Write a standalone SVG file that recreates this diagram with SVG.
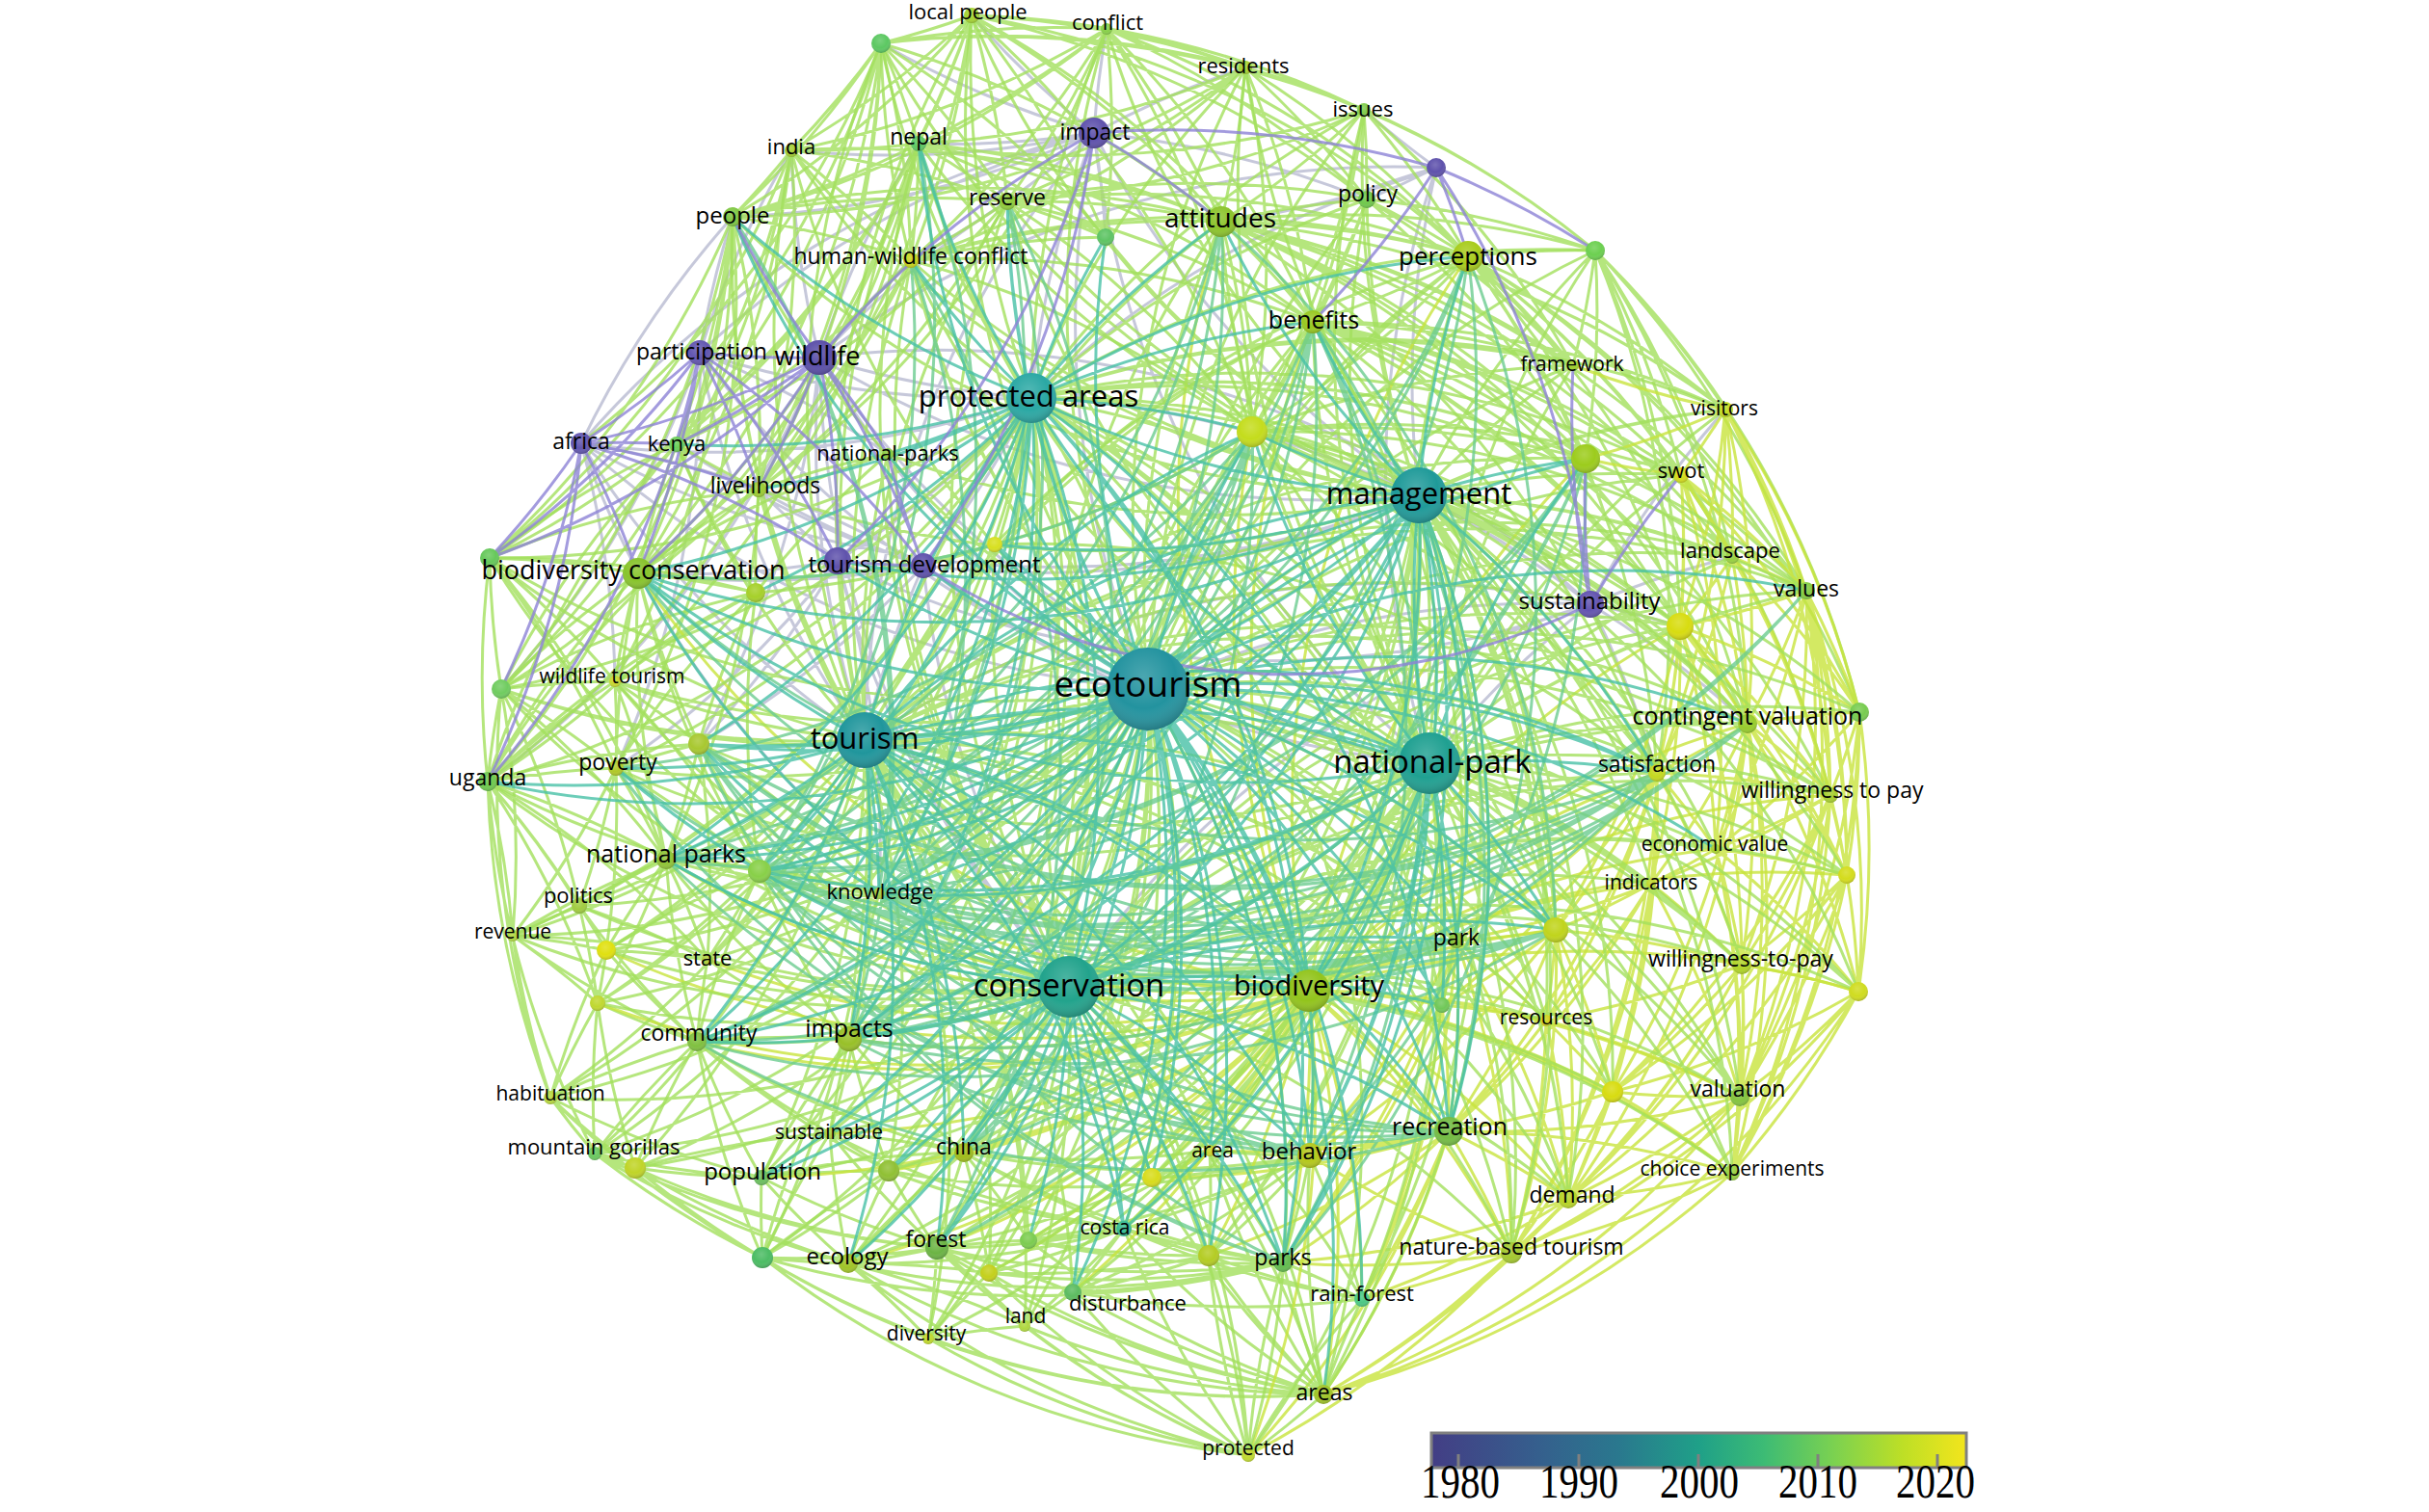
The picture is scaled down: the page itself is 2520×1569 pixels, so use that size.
<svg xmlns="http://www.w3.org/2000/svg" width="2520" height="1569" viewBox="0 0 2520 1569">
<style>
.k path{fill:none;stroke-width:3;stroke-opacity:.8;stroke-linecap:round}
.e1{stroke:#a3e05c}.e2{stroke:#c8e43c}.e3{stroke:#47c0a6}.e4{stroke:#6ccc90}.e5{stroke:#8c82d6}
.k path.e6{stroke:#a7aac6;stroke-opacity:.65}
.s{fill:url(#sh)}
text{font-family:"Open Sans","Liberation Sans",sans-serif;fill:#000;text-anchor:middle}
.yr{font-family:"Liberation Serif","Times New Roman",serif;font-size:41px}
</style>
<defs>
<radialGradient id="sh" cx="0.45" cy="0.35" r="0.7">
<stop offset="0" stop-color="#fff" stop-opacity="0.18"/>
<stop offset="0.55" stop-color="#fff" stop-opacity="0"/>
<stop offset="1" stop-color="#000" stop-opacity="0.28"/>
</radialGradient>
<linearGradient id="vir" x1="0" y1="0" x2="1" y2="0">
<stop offset="0" stop-color="#433e85"/>
<stop offset="0.2" stop-color="#355f8d"/>
<stop offset="0.35" stop-color="#2a788e"/>
<stop offset="0.5" stop-color="#1fa088"/>
<stop offset="0.62" stop-color="#3cbb75"/>
<stop offset="0.75" stop-color="#7ad151"/>
<stop offset="0.88" stop-color="#bddf26"/>
<stop offset="1" stop-color="#f3e51c"/>
</linearGradient>
</defs>
<rect width="2520" height="1569" fill="#fff"/>
<g id="connectors" class="k">
<path class="e6" d="M1191 715A1e3 1e3 0 0 1 850 371M1191 715A1e3 1e3 0 0 1 1135 138M1191 715A1e3 1e3 0 0 1 1650 627M1191 715A1e3 1e3 0 0 1 603 460M1191 715A1e3 1e3 0 0 1 726 366
M897 768A1e3 1e3 0 0 1 850 371M897 768A1e3 1e3 0 0 1 1135 138M897 768A1e3 1e3 0 0 1 603 460M897 768A1e3 1e3 0 0 1 726 366M897 768A1e3 1e3 0 0 1 1650 627M897 768A1e3 1e3 0 0 1 958 587
M1483 792A1e3 1e3 0 0 1 1650 627M1483 792A1e3 1e3 0 0 1 1135 138M1483 792A1e3 1e3 0 0 1 850 371M1483 792A1e3 1e3 0 0 1 1490 174M1483 792A1e3 1e3 0 0 1 958 587
M1472 514A1e3 1e3 0 0 1 1650 627M1472 514A1e3 1e3 0 0 1 1490 174M1472 514A1e3 1e3 0 0 1 1135 138M1472 514A1e3 1e3 0 0 1 850 371M1472 514A1e3 1e3 0 0 1 958 587M1472 514A1e3 1e3 0 0 1 603 460
M1070 413A1e3 1e3 0 0 1 850 371M1070 413A1e3 1e3 0 0 1 1135 138M1070 413A1e3 1e3 0 0 1 726 366M1070 413A1e3 1e3 0 0 1 603 460M1070 413A1e3 1e3 0 0 1 1490 174M1070 413A1e3 1e3 0 0 1 1650 627M1070 413A1e3 1e3 0 0 1 958 587M1070 413A1e3 1e3 0 0 1 869 582
M1109 1024A1e3 1e3 0 0 1 958 587M1109 1024A1e3 1e3 0 0 1 869 582M1109 1024A1e3 1e3 0 0 1 850 371M1109 1024A1e3 1e3 0 0 1 603 460M1109 1024A1e3 1e3 0 0 1 1650 627
M1135 138A1e3 1e3 0 0 1 945 270M1135 138A1e3 1e3 0 0 1 1045 209M1135 138A1e3 1e3 0 0 1 953 149M1135 138A1e3 1e3 0 0 1 760 225M1135 138A1e3 1e3 0 0 1 821 156M1135 138A1e3 1e3 0 0 1 1147 246M1135 138A1e3 1e3 0 0 1 1418 207M1135 138A1e3 1e3 0 0 1 1148 30M1135 138A1e3 1e3 0 0 1 914 45M1135 138A1e3 1e3 0 0 1 1008 16M1135 138A1e3 1e3 0 0 1 1292 70
M869 582A1e3 1e3 0 0 1 725 772M869 582A1e3 1e3 0 0 1 639 797M869 582A1e3 1e3 0 0 1 912 927M869 582A1e3 1e3 0 0 1 662 595M869 582A1e3 1e3 0 0 1 787 508
M958 587A1e3 1e3 0 0 1 662 595M958 587A1e3 1e3 0 0 1 725 772M958 587A1e3 1e3 0 0 1 787 508M958 587A1e3 1e3 0 0 1 702 461
M1650 627A1e3 1e3 0 0 1 869 582M1650 627A1e3 1e3 0 0 1 1743 650M1650 627A1e3 1e3 0 0 1 1813 751M1650 627A1e3 1e3 0 0 1 1719 802M1650 627A1e3 1e3 0 0 1 1790 425M1650 627A1e3 1e3 0 0 1 1797 578
M726 366A1e3 1e3 0 0 1 1135 138M726 366A1e3 1e3 0 0 1 760 225M726 366A1e3 1e3 0 0 1 821 156M726 366A1e3 1e3 0 0 1 520 715M726 366A1e3 1e3 0 0 1 639 797M726 366A1e3 1e3 0 0 1 921 471
M603 460A1e3 1e3 0 0 1 958 587M603 460A1e3 1e3 0 0 1 760 225M603 460A1e3 1e3 0 0 1 1135 138M603 460A1e3 1e3 0 0 1 638 707
M850 371A1e3 1e3 0 0 1 821 156M850 371A1e3 1e3 0 0 1 953 149M850 371A1e3 1e3 0 0 1 725 772M850 371A1e3 1e3 0 0 1 506 811M850 371A1e3 1e3 0 0 1 1650 627M850 371A1e3 1e3 0 0 1 1490 174M850 371A1e3 1e3 0 0 1 945 270M850 371A1e3 1e3 0 0 1 1045 209
M1490 174A1e3 1e3 0 0 1 1418 207M1490 174A1e3 1e3 0 0 1 1267 230M1490 174A1e3 1e3 0 0 1 1415 114"/>
<path class="e1" d="M1008 16A1e3 1e3 0 0 1 914 45M1008 16A1e3 1e3 0 0 1 1148 30M1008 16A1e3 1e3 0 0 1 1292 70M1008 16A1e3 1e3 0 0 1 1415 114M1008 16A1e3 1e3 0 0 1 953 149M1008 16A1e3 1e3 0 0 1 821 156M1008 16A1e3 1e3 0 0 1 760 225M1008 16A1e3 1e3 0 0 1 1045 209M1008 16A1e3 1e3 0 0 1 945 270M1008 16A1e3 1e3 0 0 1 1267 230M1008 16A1e3 1e3 0 0 1 1147 246M1008 16A1e3 1e3 0 0 1 1418 207M1008 16A1e3 1e3 0 0 1 1523 266M1008 16A1e3 1e3 0 0 1 1362 334M1008 16A1e3 1e3 0 0 1 1299 448M1008 16A1e3 1e3 0 0 1 702 461M1008 16A1e3 1e3 0 0 1 787 508
M914 45A1e3 1e3 0 0 1 1148 30M914 45A1e3 1e3 0 0 1 953 149M914 45A1e3 1e3 0 0 1 821 156M914 45A1e3 1e3 0 0 1 760 225M914 45A1e3 1e3 0 0 1 1045 209M914 45A1e3 1e3 0 0 1 945 270M914 45A1e3 1e3 0 0 1 1267 230M914 45A1e3 1e3 0 0 1 1147 246M914 45A1e3 1e3 0 0 1 1415 114M914 45A1e3 1e3 0 0 1 1292 70M914 45A1e3 1e3 0 0 1 702 461M914 45A1e3 1e3 0 0 1 603 460M914 45A1e3 1e3 0 0 1 787 508M914 45A1e3 1e3 0 0 1 662 595M914 45A1e3 1e3 0 0 1 508 579M914 45A1e3 1e3 0 0 1 506 811
M1148 30A1e3 1e3 0 0 1 1292 70M1148 30A1e3 1e3 0 0 1 1415 114M1148 30A1e3 1e3 0 0 1 953 149M1148 30A1e3 1e3 0 0 1 821 156M1148 30A1e3 1e3 0 0 1 760 225M1148 30A1e3 1e3 0 0 1 1045 209M1148 30A1e3 1e3 0 0 1 945 270M1148 30A1e3 1e3 0 0 1 1267 230M1148 30A1e3 1e3 0 0 1 1147 246M1148 30A1e3 1e3 0 0 1 1418 207M1148 30A1e3 1e3 0 0 1 1523 266M1148 30A1e3 1e3 0 0 1 1362 334M1148 30A1e3 1e3 0 0 1 1299 448M1148 30A1e3 1e3 0 0 1 787 508
M1292 70A1e3 1e3 0 0 1 1415 114M1292 70A1e3 1e3 0 0 1 953 149M1292 70A1e3 1e3 0 0 1 760 225M1292 70A1e3 1e3 0 0 1 1045 209M1292 70A1e3 1e3 0 0 1 1267 230M1292 70A1e3 1e3 0 0 1 1418 207M1292 70A1e3 1e3 0 0 1 1523 266M1292 70A1e3 1e3 0 0 1 1655 260M1292 70A1e3 1e3 0 0 1 1362 334M1292 70A1e3 1e3 0 0 1 1299 448M1292 70A1e3 1e3 0 0 1 945 270
M1415 114A1e3 1e3 0 0 1 1418 207M1415 114A1e3 1e3 0 0 1 1267 230M1415 114A1e3 1e3 0 0 1 1523 266M1415 114A1e3 1e3 0 0 1 1655 260M1415 114A1e3 1e3 0 0 1 1362 334M1415 114A1e3 1e3 0 0 1 1045 209M1415 114A1e3 1e3 0 0 1 953 149M1415 114A1e3 1e3 0 0 1 1299 448M1415 114A1e3 1e3 0 0 1 1632 379
M953 149A1e3 1e3 0 0 1 821 156M953 149A1e3 1e3 0 0 1 760 225M953 149A1e3 1e3 0 0 1 1045 209M953 149A1e3 1e3 0 0 1 945 270M953 149A1e3 1e3 0 0 1 1267 230M953 149A1e3 1e3 0 0 1 1147 246M953 149A1e3 1e3 0 0 1 1362 334M953 149A1e3 1e3 0 0 1 702 461M953 149A1e3 1e3 0 0 1 787 508M953 149A1e3 1e3 0 0 1 662 595M953 149A1e3 1e3 0 0 1 508 579M953 149A1e3 1e3 0 0 1 520 715M953 149A1e3 1e3 0 0 1 506 811
M821 156A1e3 1e3 0 0 1 760 225M821 156A1e3 1e3 0 0 1 1045 209M821 156A1e3 1e3 0 0 1 945 270M821 156A1e3 1e3 0 0 1 1267 230M821 156A1e3 1e3 0 0 1 702 461M821 156A1e3 1e3 0 0 1 787 508M821 156A1e3 1e3 0 0 1 662 595M821 156A1e3 1e3 0 0 1 508 579M821 156A1e3 1e3 0 0 1 520 715
M760 225A1e3 1e3 0 0 1 1045 209M760 225A1e3 1e3 0 0 1 945 270M760 225A1e3 1e3 0 0 1 1267 230M760 225A1e3 1e3 0 0 1 702 461M760 225A1e3 1e3 0 0 1 787 508M760 225A1e3 1e3 0 0 1 662 595M760 225A1e3 1e3 0 0 1 508 579M760 225A1e3 1e3 0 0 1 520 715M760 225A1e3 1e3 0 0 1 506 811M760 225A1e3 1e3 0 0 1 639 797M760 225A1e3 1e3 0 0 1 638 707M760 225A1e3 1e3 0 0 1 691 892
M1045 209A1e3 1e3 0 0 1 945 270M1045 209A1e3 1e3 0 0 1 1267 230M1045 209A1e3 1e3 0 0 1 1147 246M1045 209A1e3 1e3 0 0 1 1362 334M1045 209A1e3 1e3 0 0 1 1418 207M1045 209A1e3 1e3 0 0 1 1523 266M1045 209A1e3 1e3 0 0 1 1299 448M1045 209A1e3 1e3 0 0 1 787 508M1045 209A1e3 1e3 0 0 1 702 461
M945 270A1e3 1e3 0 0 1 1267 230M945 270A1e3 1e3 0 0 1 1147 246M945 270A1e3 1e3 0 0 1 1362 334M945 270A1e3 1e3 0 0 1 1523 266M945 270A1e3 1e3 0 0 1 702 461M945 270A1e3 1e3 0 0 1 787 508M945 270A1e3 1e3 0 0 1 662 595M945 270A1e3 1e3 0 0 1 1299 448
M1267 230A1e3 1e3 0 0 1 1418 207M1267 230A1e3 1e3 0 0 1 1523 266M1267 230A1e3 1e3 0 0 1 1655 260M1267 230A1e3 1e3 0 0 1 1362 334M1267 230A1e3 1e3 0 0 1 1299 448M1267 230A1e3 1e3 0 0 1 1645 476M1267 230A1e3 1e3 0 0 1 1632 379M1267 230A1e3 1e3 0 0 1 1744 493M1267 230A1e3 1e3 0 0 1 1790 425M1267 230A1e3 1e3 0 0 1 1797 578M1267 230A1e3 1e3 0 0 1 1874 613M1267 230A1e3 1e3 0 0 1 1743 650M1267 230A1e3 1e3 0 0 1 1719 802M1267 230A1e3 1e3 0 0 1 1813 751
M1418 207A1e3 1e3 0 0 1 1523 266M1418 207A1e3 1e3 0 0 1 1655 260M1418 207A1e3 1e3 0 0 1 1362 334M1418 207A1e3 1e3 0 0 1 1299 448M1418 207A1e3 1e3 0 0 1 1632 379M1418 207A1e3 1e3 0 0 1 1645 476
M1523 266A1e3 1e3 0 0 1 1655 260M1523 266A1e3 1e3 0 0 1 1362 334M1523 266A1e3 1e3 0 0 1 1299 448M1523 266A1e3 1e3 0 0 1 1632 379M1523 266A1e3 1e3 0 0 1 1790 425M1523 266A1e3 1e3 0 0 1 1645 476M1523 266A1e3 1e3 0 0 1 1744 493M1523 266A1e3 1e3 0 0 1 1797 578M1523 266A1e3 1e3 0 0 1 1874 613M1523 266A1e3 1e3 0 0 1 1743 650M1523 266A1e3 1e3 0 0 1 1813 751M1523 266A1e3 1e3 0 0 1 1719 802M1523 266A1e3 1e3 0 0 1 1899 825M1523 266A1e3 1e3 0 0 1 1929 739
M1655 260A1e3 1e3 0 0 1 1632 379M1655 260A1e3 1e3 0 0 1 1790 425M1655 260A1e3 1e3 0 0 1 1645 476M1655 260A1e3 1e3 0 0 1 1744 493M1655 260A1e3 1e3 0 0 1 1797 578M1655 260A1e3 1e3 0 0 1 1874 613M1655 260A1e3 1e3 0 0 1 1743 650M1655 260A1e3 1e3 0 0 1 1813 751M1655 260A1e3 1e3 0 0 1 1929 739M1655 260A1e3 1e3 0 0 1 1719 802
M1362 334A1e3 1e3 0 0 1 1299 448M1362 334A1e3 1e3 0 0 1 1632 379M1362 334A1e3 1e3 0 0 1 1790 425M1362 334A1e3 1e3 0 0 1 1645 476M1362 334A1e3 1e3 0 0 1 1744 493M1362 334A1e3 1e3 0 0 1 1797 578M1362 334A1e3 1e3 0 0 1 1874 613M1362 334A1e3 1e3 0 0 1 1743 650M1362 334A1e3 1e3 0 0 1 1813 751M1362 334A1e3 1e3 0 0 1 1719 802M1362 334A1e3 1e3 0 0 1 1899 825M1362 334A1e3 1e3 0 0 1 1511 976M1362 334A1e3 1e3 0 0 1 1614 965
M1299 448A1e3 1e3 0 0 1 1645 476M1299 448A1e3 1e3 0 0 1 1632 379M1299 448A1e3 1e3 0 0 1 1744 493M1299 448A1e3 1e3 0 0 1 1874 613M1299 448A1e3 1e3 0 0 1 1743 650M1299 448A1e3 1e3 0 0 1 1813 751M1299 448A1e3 1e3 0 0 1 1719 802M1299 448A1e3 1e3 0 0 1 1614 965M1299 448A1e3 1e3 0 0 1 1511 976M1299 448A1e3 1e3 0 0 1 1032 565"/>
<path class="e2" d="M1790 425A1e3 1e3 0 0 1 1744 493M1790 425A1e3 1e3 0 0 1 1797 578M1790 425A1e3 1e3 0 0 1 1874 613M1790 425A1e3 1e3 0 0 1 1743 650M1790 425A1e3 1e3 0 0 1 1813 751M1790 425A1e3 1e3 0 0 1 1929 739M1790 425A1e3 1e3 0 0 1 1719 802M1790 425A1e3 1e3 0 0 1 1899 825M1790 425A1e3 1e3 0 0 1 1916 908M1790 425A1e3 1e3 0 0 1 1632 379M1790 425A1e3 1e3 0 0 1 1645 476
M1744 493A1e3 1e3 0 0 1 1797 578M1744 493A1e3 1e3 0 0 1 1874 613M1744 493A1e3 1e3 0 0 1 1743 650M1744 493A1e3 1e3 0 0 1 1813 751M1744 493A1e3 1e3 0 0 1 1929 739M1744 493A1e3 1e3 0 0 1 1719 802M1744 493A1e3 1e3 0 0 1 1899 825M1744 493A1e3 1e3 0 0 1 1780 881M1744 493A1e3 1e3 0 0 1 1916 908M1744 493A1e3 1e3 0 0 1 1645 476
M1797 578A1e3 1e3 0 0 1 1874 613M1797 578A1e3 1e3 0 0 1 1743 650M1797 578A1e3 1e3 0 0 1 1813 751M1797 578A1e3 1e3 0 0 1 1929 739M1797 578A1e3 1e3 0 0 1 1899 825M1797 578A1e3 1e3 0 0 1 1719 802M1797 578A1e3 1e3 0 0 1 1916 908
M1874 613A1e3 1e3 0 0 1 1743 650M1874 613A1e3 1e3 0 0 1 1813 751M1874 613A1e3 1e3 0 0 1 1929 739M1874 613A1e3 1e3 0 0 1 1899 825M1874 613A1e3 1e3 0 0 1 1780 881M1874 613A1e3 1e3 0 0 1 1916 908M1874 613A1e3 1e3 0 0 1 1807 1001M1874 613A1e3 1e3 0 0 1 1928 1029M1874 613A1e3 1e3 0 0 1 1805 1138M1874 613A1e3 1e3 0 0 1 1797 1217
M1743 650A1e3 1e3 0 0 1 1813 751M1743 650A1e3 1e3 0 0 1 1929 739M1743 650A1e3 1e3 0 0 1 1719 802M1743 650A1e3 1e3 0 0 1 1899 825M1743 650A1e3 1e3 0 0 1 1780 881M1743 650A1e3 1e3 0 0 1 1713 917M1743 650A1e3 1e3 0 0 1 1916 908M1743 650A1e3 1e3 0 0 1 1614 965M1743 650A1e3 1e3 0 0 1 1807 1001M1743 650A1e3 1e3 0 0 1 1928 1029
M1813 751A1e3 1e3 0 0 1 1929 739M1813 751A1e3 1e3 0 0 1 1719 802M1813 751A1e3 1e3 0 0 1 1899 825M1813 751A1e3 1e3 0 0 1 1780 881M1813 751A1e3 1e3 0 0 1 1916 908M1813 751A1e3 1e3 0 0 1 1713 917M1813 751A1e3 1e3 0 0 1 1807 1001M1813 751A1e3 1e3 0 0 1 1928 1029M1813 751A1e3 1e3 0 0 1 1805 1138M1813 751A1e3 1e3 0 0 1 1797 1217M1813 751A1e3 1e3 0 0 1 1673 1133M1813 751A1e3 1e3 0 0 1 1627 1244
M1929 739A1e3 1e3 0 0 1 1899 825M1929 739A1e3 1e3 0 0 1 1780 881M1929 739A1e3 1e3 0 0 1 1916 908M1929 739A1e3 1e3 0 0 1 1807 1001M1929 739A1e3 1e3 0 0 1 1928 1029M1929 739A1e3 1e3 0 0 1 1805 1138M1929 739A1e3 1e3 0 0 1 1797 1217
M1719 802A1e3 1e3 0 0 1 1899 825M1719 802A1e3 1e3 0 0 1 1780 881M1719 802A1e3 1e3 0 0 1 1713 917M1719 802A1e3 1e3 0 0 1 1614 965M1719 802A1e3 1e3 0 0 1 1511 976M1719 802A1e3 1e3 0 0 1 1807 1001M1719 802A1e3 1e3 0 0 1 1496 1043M1719 802A1e3 1e3 0 0 1 1604 1059M1719 802A1e3 1e3 0 0 1 1503 1174M1719 802A1e3 1e3 0 0 1 1673 1133M1719 802A1e3 1e3 0 0 1 1627 1244M1719 802A1e3 1e3 0 0 1 1568 1300
M1899 825A1e3 1e3 0 0 1 1780 881M1899 825A1e3 1e3 0 0 1 1916 908M1899 825A1e3 1e3 0 0 1 1713 917M1899 825A1e3 1e3 0 0 1 1807 1001M1899 825A1e3 1e3 0 0 1 1928 1029M1899 825A1e3 1e3 0 0 1 1805 1138M1899 825A1e3 1e3 0 0 1 1797 1217M1899 825A1e3 1e3 0 0 1 1673 1133M1899 825A1e3 1e3 0 0 1 1627 1244
M1780 881A1e3 1e3 0 0 1 1916 908M1780 881A1e3 1e3 0 0 1 1713 917M1780 881A1e3 1e3 0 0 1 1807 1001M1780 881A1e3 1e3 0 0 1 1928 1029M1780 881A1e3 1e3 0 0 1 1805 1138M1780 881A1e3 1e3 0 0 1 1797 1217
M1916 908A1e3 1e3 0 0 1 1807 1001M1916 908A1e3 1e3 0 0 1 1928 1029M1916 908A1e3 1e3 0 0 1 1805 1138M1916 908A1e3 1e3 0 0 1 1797 1217M1916 908A1e3 1e3 0 0 1 1673 1133M1916 908A1e3 1e3 0 0 1 1627 1244
M1713 917A1e3 1e3 0 0 1 1614 965M1713 917A1e3 1e3 0 0 1 1511 976M1713 917A1e3 1e3 0 0 1 1807 1001M1713 917A1e3 1e3 0 0 1 1604 1059M1713 917A1e3 1e3 0 0 1 1673 1133M1713 917A1e3 1e3 0 0 1 1805 1138M1713 917A1e3 1e3 0 0 1 1627 1244M1713 917A1e3 1e3 0 0 1 1568 1300M1713 917A1e3 1e3 0 0 1 1503 1174
M1614 965A1e3 1e3 0 0 1 1511 976M1614 965A1e3 1e3 0 0 1 1496 1043M1614 965A1e3 1e3 0 0 1 1604 1059M1614 965A1e3 1e3 0 0 1 1807 1001M1614 965A1e3 1e3 0 0 1 1503 1174M1614 965A1e3 1e3 0 0 1 1673 1133M1614 965A1e3 1e3 0 0 1 1627 1244M1614 965A1e3 1e3 0 0 1 1568 1300M1614 965A1e3 1e3 0 0 1 1359 1199
M1511 976A1e3 1e3 0 0 1 1496 1043M1511 976A1e3 1e3 0 0 1 1604 1059M1511 976A1e3 1e3 0 0 1 1503 1174M1511 976A1e3 1e3 0 0 1 1359 1199M1511 976A1e3 1e3 0 0 1 1331 1310M1511 976A1e3 1e3 0 0 1 1413 1348M1511 976A1e3 1e3 0 0 1 1568 1300M1511 976A1e3 1e3 0 0 1 1627 1244
M1807 1001A1e3 1e3 0 0 1 1928 1029M1807 1001A1e3 1e3 0 0 1 1805 1138M1807 1001A1e3 1e3 0 0 1 1797 1217M1807 1001A1e3 1e3 0 0 1 1673 1133M1807 1001A1e3 1e3 0 0 1 1627 1244M1807 1001A1e3 1e3 0 0 1 1568 1300M1807 1001A1e3 1e3 0 0 1 1604 1059
M1928 1029A1e3 1e3 0 0 1 1805 1138M1928 1029A1e3 1e3 0 0 1 1797 1217M1928 1029A1e3 1e3 0 0 1 1673 1133M1928 1029A1e3 1e3 0 0 1 1627 1244M1928 1029A1e3 1e3 0 0 1 1568 1300M1928 1029A1e3 1e3 0 0 1 1373 1447
M1496 1043A1e3 1e3 0 0 1 1604 1059M1496 1043A1e3 1e3 0 0 1 1503 1174M1496 1043A1e3 1e3 0 0 1 1359 1199M1496 1043A1e3 1e3 0 0 1 1331 1310M1496 1043A1e3 1e3 0 0 1 1413 1348
M1604 1059A1e3 1e3 0 0 1 1503 1174M1604 1059A1e3 1e3 0 0 1 1673 1133M1604 1059A1e3 1e3 0 0 1 1805 1138M1604 1059A1e3 1e3 0 0 1 1627 1244M1604 1059A1e3 1e3 0 0 1 1568 1300
M1805 1138A1e3 1e3 0 0 1 1797 1217M1805 1138A1e3 1e3 0 0 1 1673 1133M1805 1138A1e3 1e3 0 0 1 1627 1244M1805 1138A1e3 1e3 0 0 1 1568 1300M1805 1138A1e3 1e3 0 0 1 1503 1174M1805 1138A1e3 1e3 0 0 1 1373 1447
M1673 1133A1e3 1e3 0 0 1 1797 1217M1673 1133A1e3 1e3 0 0 1 1627 1244M1673 1133A1e3 1e3 0 0 1 1568 1300M1673 1133A1e3 1e3 0 0 1 1503 1174
M1503 1174A1e3 1e3 0 0 1 1359 1199M1503 1174A1e3 1e3 0 0 1 1331 1310M1503 1174A1e3 1e3 0 0 1 1413 1348M1503 1174A1e3 1e3 0 0 1 1568 1300M1503 1174A1e3 1e3 0 0 1 1627 1244M1503 1174A1e3 1e3 0 0 1 1797 1217M1503 1174A1e3 1e3 0 0 1 1373 1447M1503 1174A1e3 1e3 0 0 1 1295 1510M1503 1174A1e3 1e3 0 0 1 1255 1194M1503 1174A1e3 1e3 0 0 1 1195 1222M1503 1174A1e3 1e3 0 0 1 1254 1303
M1797 1217A1e3 1e3 0 0 1 1627 1244M1797 1217A1e3 1e3 0 0 1 1568 1300M1797 1217A1e3 1e3 0 0 1 1373 1447
M1627 1244A1e3 1e3 0 0 1 1568 1300M1627 1244A1e3 1e3 0 0 1 1373 1447M1627 1244A1e3 1e3 0 0 1 1413 1348M1627 1244A1e3 1e3 0 0 1 1331 1310
M1568 1300A1e3 1e3 0 0 1 1373 1447M1568 1300A1e3 1e3 0 0 1 1295 1510M1568 1300A1e3 1e3 0 0 1 1413 1348M1568 1300A1e3 1e3 0 0 1 1331 1310M1568 1300A1e3 1e3 0 0 1 1359 1199"/>
<path class="e1" d="M1373 1447A1e3 1e3 0 0 1 1295 1510M1373 1447A1e3 1e3 0 0 1 1331 1310M1373 1447A1e3 1e3 0 0 1 1413 1348M1373 1447A1e3 1e3 0 0 1 1254 1303M1373 1447A1e3 1e3 0 0 1 1359 1199M1373 1447A1e3 1e3 0 0 1 1255 1194M1373 1447A1e3 1e3 0 0 1 1195 1222M1373 1447A1e3 1e3 0 0 1 1166 1275M1373 1447A1e3 1e3 0 0 1 1113 1341M1373 1447A1e3 1e3 0 0 1 1063 1376M1373 1447A1e3 1e3 0 0 1 1067 1287M1373 1447A1e3 1e3 0 0 1 1026 1321M1373 1447A1e3 1e3 0 0 1 972 1295M1373 1447A1e3 1e3 0 0 1 880 1311M1373 1447A1e3 1e3 0 0 1 963 1389M1373 1447A1e3 1e3 0 0 1 791 1305
M1295 1510A1e3 1e3 0 0 1 1331 1310M1295 1510A1e3 1e3 0 0 1 1413 1348M1295 1510A1e3 1e3 0 0 1 1254 1303M1295 1510A1e3 1e3 0 0 1 1113 1341M1295 1510A1e3 1e3 0 0 1 1063 1376M1295 1510A1e3 1e3 0 0 1 963 1389M1295 1510A1e3 1e3 0 0 1 1026 1321M1295 1510A1e3 1e3 0 0 1 972 1295M1295 1510A1e3 1e3 0 0 1 880 1311M1295 1510A1e3 1e3 0 0 1 791 1305M1295 1510A1e3 1e3 0 0 1 1166 1275
M1359 1199A1e3 1e3 0 0 1 1255 1194M1359 1199A1e3 1e3 0 0 1 1195 1222M1359 1199A1e3 1e3 0 0 1 1331 1310M1359 1199A1e3 1e3 0 0 1 1413 1348M1359 1199A1e3 1e3 0 0 1 1166 1275M1359 1199A1e3 1e3 0 0 1 1254 1303M1359 1199A1e3 1e3 0 0 1 1067 1287M1359 1199A1e3 1e3 0 0 1 1113 1341M1359 1199A1e3 1e3 0 0 1 1000 1196M1359 1199A1e3 1e3 0 0 1 922 1215
M1255 1194A1e3 1e3 0 0 1 1195 1222M1255 1194A1e3 1e3 0 0 1 1331 1310M1255 1194A1e3 1e3 0 0 1 1166 1275M1255 1194A1e3 1e3 0 0 1 1254 1303M1255 1194A1e3 1e3 0 0 1 1067 1287M1255 1194A1e3 1e3 0 0 1 972 1295M1255 1194A1e3 1e3 0 0 1 1000 1196
M1331 1310A1e3 1e3 0 0 1 1413 1348M1331 1310A1e3 1e3 0 0 1 1254 1303M1331 1310A1e3 1e3 0 0 1 1166 1275M1331 1310A1e3 1e3 0 0 1 1067 1287M1331 1310A1e3 1e3 0 0 1 1113 1341M1331 1310A1e3 1e3 0 0 1 1026 1321M1331 1310A1e3 1e3 0 0 1 972 1295M1331 1310A1e3 1e3 0 0 1 880 1311M1331 1310A1e3 1e3 0 0 1 791 1305M1331 1310A1e3 1e3 0 0 1 1000 1196
M1413 1348A1e3 1e3 0 0 1 1254 1303M1413 1348A1e3 1e3 0 0 1 1166 1275M1413 1348A1e3 1e3 0 0 1 1113 1341
M1166 1275A1e3 1e3 0 0 1 1067 1287M1166 1275A1e3 1e3 0 0 1 1113 1341M1166 1275A1e3 1e3 0 0 1 1026 1321M1166 1275A1e3 1e3 0 0 1 972 1295M1166 1275A1e3 1e3 0 0 1 880 1311M1166 1275A1e3 1e3 0 0 1 1000 1196M1166 1275A1e3 1e3 0 0 1 922 1215M1166 1275A1e3 1e3 0 0 1 861 1176M1166 1275A1e3 1e3 0 0 1 1063 1376
M1254 1303A1e3 1e3 0 0 1 1067 1287M1254 1303A1e3 1e3 0 0 1 1113 1341M1254 1303A1e3 1e3 0 0 1 1026 1321M1254 1303A1e3 1e3 0 0 1 1000 1196
M972 1295A1e3 1e3 0 0 1 880 1311M972 1295A1e3 1e3 0 0 1 791 1305M972 1295A1e3 1e3 0 0 1 1067 1287M972 1295A1e3 1e3 0 0 1 1113 1341M972 1295A1e3 1e3 0 0 1 1063 1376M972 1295A1e3 1e3 0 0 1 963 1389M972 1295A1e3 1e3 0 0 1 1026 1321M972 1295A1e3 1e3 0 0 1 1000 1196M972 1295A1e3 1e3 0 0 1 790 1222M972 1295A1e3 1e3 0 0 1 922 1215M972 1295A1e3 1e3 0 0 1 861 1176M972 1295A1e3 1e3 0 0 1 617 1197M972 1295A1e3 1e3 0 0 1 659 1212
M880 1311A1e3 1e3 0 0 1 791 1305M880 1311A1e3 1e3 0 0 1 963 1389M880 1311A1e3 1e3 0 0 1 1063 1376M880 1311A1e3 1e3 0 0 1 1026 1321M880 1311A1e3 1e3 0 0 1 790 1222M880 1311A1e3 1e3 0 0 1 617 1197M880 1311A1e3 1e3 0 0 1 659 1212M880 1311A1e3 1e3 0 0 1 861 1176M880 1311A1e3 1e3 0 0 1 922 1215M880 1311A1e3 1e3 0 0 1 1000 1196
M963 1389A1e3 1e3 0 0 1 791 1305M963 1389A1e3 1e3 0 0 1 1063 1376M963 1389A1e3 1e3 0 0 1 1026 1321
M791 1305A1e3 1e3 0 0 1 790 1222M791 1305A1e3 1e3 0 0 1 617 1197M791 1305A1e3 1e3 0 0 1 659 1212M791 1305A1e3 1e3 0 0 1 571 1139M791 1305A1e3 1e3 0 0 1 861 1176M791 1305A1e3 1e3 0 0 1 922 1215M791 1305A1e3 1e3 0 0 1 723 1081M791 1305A1e3 1e3 0 0 1 881 1078
M790 1222A1e3 1e3 0 0 1 617 1197M790 1222A1e3 1e3 0 0 1 659 1212M790 1222A1e3 1e3 0 0 1 861 1176M790 1222A1e3 1e3 0 0 1 922 1215M790 1222A1e3 1e3 0 0 1 1000 1196M790 1222A1e3 1e3 0 0 1 571 1139M790 1222A1e3 1e3 0 0 1 723 1081M790 1222A1e3 1e3 0 0 1 881 1078
M617 1197A1e3 1e3 0 0 1 659 1212M617 1197A1e3 1e3 0 0 1 571 1139M617 1197A1e3 1e3 0 0 1 723 1081M617 1197A1e3 1e3 0 0 1 506 811M617 1197A1e3 1e3 0 0 1 620 1041
M659 1212A1e3 1e3 0 0 1 571 1139M659 1212A1e3 1e3 0 0 1 723 1081M659 1212A1e3 1e3 0 0 1 861 1176M659 1212A1e3 1e3 0 0 1 620 1041
M861 1176A1e3 1e3 0 0 1 922 1215M861 1176A1e3 1e3 0 0 1 1000 1196M861 1176A1e3 1e3 0 0 1 723 1081M861 1176A1e3 1e3 0 0 1 881 1078
M922 1215A1e3 1e3 0 0 1 1000 1196M922 1215A1e3 1e3 0 0 1 723 1081M922 1215A1e3 1e3 0 0 1 881 1078
M1000 1196A1e3 1e3 0 0 1 723 1081M1000 1196A1e3 1e3 0 0 1 881 1078M1000 1196A1e3 1e3 0 0 1 1067 1287M1000 1196A1e3 1e3 0 0 1 1026 1321
M571 1139A1e3 1e3 0 0 1 723 1081M571 1139A1e3 1e3 0 0 1 506 811M571 1139A1e3 1e3 0 0 1 620 1041M571 1139A1e3 1e3 0 0 1 532 971M571 1139A1e3 1e3 0 0 1 629 986M571 1139A1e3 1e3 0 0 1 520 715
M723 1081A1e3 1e3 0 0 1 881 1078M723 1081A1e3 1e3 0 0 1 620 1041M723 1081A1e3 1e3 0 0 1 734 996M723 1081A1e3 1e3 0 0 1 629 986M723 1081A1e3 1e3 0 0 1 532 971M723 1081A1e3 1e3 0 0 1 601 940M723 1081A1e3 1e3 0 0 1 691 892M723 1081A1e3 1e3 0 0 1 788 904
M881 1078A1e3 1e3 0 0 1 734 996M881 1078A1e3 1e3 0 0 1 691 892M881 1078A1e3 1e3 0 0 1 788 904M881 1078A1e3 1e3 0 0 1 912 927
M506 811A1e3 1e3 0 0 1 520 715M506 811A1e3 1e3 0 0 1 508 579M506 811A1e3 1e3 0 0 1 638 707M506 811A1e3 1e3 0 0 1 639 797M506 811A1e3 1e3 0 0 1 725 772M506 811A1e3 1e3 0 0 1 601 940M506 811A1e3 1e3 0 0 1 532 971M506 811A1e3 1e3 0 0 1 629 986M506 811A1e3 1e3 0 0 1 691 892M506 811A1e3 1e3 0 0 1 620 1041M506 811A1e3 1e3 0 0 1 734 996M506 811A1e3 1e3 0 0 1 662 595M506 811A1e3 1e3 0 0 1 784 615M506 811A1e3 1e3 0 0 1 702 461M506 811A1e3 1e3 0 0 1 787 508
M520 715A1e3 1e3 0 0 1 508 579M520 715A1e3 1e3 0 0 1 638 707M520 715A1e3 1e3 0 0 1 639 797M520 715A1e3 1e3 0 0 1 662 595M520 715A1e3 1e3 0 0 1 784 615M520 715A1e3 1e3 0 0 1 601 940M520 715A1e3 1e3 0 0 1 532 971M520 715A1e3 1e3 0 0 1 691 892M520 715A1e3 1e3 0 0 1 702 461
M508 579A1e3 1e3 0 0 1 662 595M508 579A1e3 1e3 0 0 1 638 707M508 579A1e3 1e3 0 0 1 784 615M508 579A1e3 1e3 0 0 1 702 461M508 579A1e3 1e3 0 0 1 787 508M508 579A1e3 1e3 0 0 1 639 797M508 579A1e3 1e3 0 0 1 691 892
M638 707A1e3 1e3 0 0 1 639 797M638 707A1e3 1e3 0 0 1 725 772M638 707A1e3 1e3 0 0 1 662 595M638 707A1e3 1e3 0 0 1 784 615M638 707A1e3 1e3 0 0 1 691 892M638 707A1e3 1e3 0 0 1 788 904
M639 797A1e3 1e3 0 0 1 725 772M639 797A1e3 1e3 0 0 1 691 892M639 797A1e3 1e3 0 0 1 788 904M639 797A1e3 1e3 0 0 1 601 940M639 797A1e3 1e3 0 0 1 532 971M639 797A1e3 1e3 0 0 1 629 986M639 797A1e3 1e3 0 0 1 662 595M639 797A1e3 1e3 0 0 1 784 615
M725 772A1e3 1e3 0 0 1 691 892M725 772A1e3 1e3 0 0 1 788 904M725 772A1e3 1e3 0 0 1 912 927M725 772A1e3 1e3 0 0 1 662 595M725 772A1e3 1e3 0 0 1 784 615M725 772A1e3 1e3 0 0 1 734 996
M532 971A1e3 1e3 0 0 1 601 940M532 971A1e3 1e3 0 0 1 629 986M532 971A1e3 1e3 0 0 1 620 1041M532 971A1e3 1e3 0 0 1 734 996M532 971A1e3 1e3 0 0 1 691 892
M601 940A1e3 1e3 0 0 1 629 986M601 940A1e3 1e3 0 0 1 691 892M601 940A1e3 1e3 0 0 1 734 996M601 940A1e3 1e3 0 0 1 620 1041
M629 986A1e3 1e3 0 0 1 734 996M629 986A1e3 1e3 0 0 1 620 1041M629 986A1e3 1e3 0 0 1 691 892M629 986A1e3 1e3 0 0 1 788 904
M691 892A1e3 1e3 0 0 1 788 904M691 892A1e3 1e3 0 0 1 734 996M691 892A1e3 1e3 0 0 1 912 927M691 892A1e3 1e3 0 0 1 620 1041M691 892A1e3 1e3 0 0 1 662 595
M788 904A1e3 1e3 0 0 1 912 927M788 904A1e3 1e3 0 0 1 734 996M788 904A1e3 1e3 0 0 1 662 595M788 904A1e3 1e3 0 0 1 784 615
M662 595A1e3 1e3 0 0 1 784 615M662 595A1e3 1e3 0 0 1 702 461M662 595A1e3 1e3 0 0 1 787 508M662 595A1e3 1e3 0 0 1 921 471
M784 615A1e3 1e3 0 0 1 787 508M784 615A1e3 1e3 0 0 1 921 471M784 615A1e3 1e3 0 0 1 702 461M787 508A1e3 1e3 0 0 1 702 461M787 508A1e3 1e3 0 0 1 921 471
M1032 565A1e3 1e3 0 0 1 662 595M1032 565A1e3 1e3 0 0 1 784 615M1032 565A1e3 1e3 0 0 1 1362 334M1032 565A1e3 1e3 0 0 1 1719 802"/>
<path class="e2" d="M1358 1028A1e3 1e3 0 0 1 1511 976M1358 1028A1e3 1e3 0 0 1 1496 1043M1358 1028A1e3 1e3 0 0 1 1604 1059M1358 1028A1e3 1e3 0 0 1 1614 965M1358 1028A1e3 1e3 0 0 1 1713 917M1358 1028A1e3 1e3 0 0 1 1780 881M1358 1028A1e3 1e3 0 0 1 1719 802M1358 1028A1e3 1e3 0 0 1 1813 751M1358 1028A1e3 1e3 0 0 1 1899 825M1358 1028A1e3 1e3 0 0 1 1807 1001M1358 1028A1e3 1e3 0 0 1 1916 908M1358 1028A1e3 1e3 0 0 1 1928 1029M1358 1028A1e3 1e3 0 0 1 1805 1138M1358 1028A1e3 1e3 0 0 1 1673 1133M1358 1028A1e3 1e3 0 0 1 1503 1174M1358 1028A1e3 1e3 0 0 1 1359 1199M1358 1028A1e3 1e3 0 0 1 1255 1194M1358 1028A1e3 1e3 0 0 1 1195 1222M1358 1028A1e3 1e3 0 0 1 1254 1303M1358 1028A1e3 1e3 0 0 1 1331 1310M1358 1028A1e3 1e3 0 0 1 1413 1348M1358 1028A1e3 1e3 0 0 1 1373 1447M1358 1028A1e3 1e3 0 0 1 1295 1510M1358 1028A1e3 1e3 0 0 1 1568 1300M1358 1028A1e3 1e3 0 0 1 1627 1244M1358 1028A1e3 1e3 0 0 1 1797 1217M1358 1028A1e3 1e3 0 0 1 1166 1275M1358 1028A1e3 1e3 0 0 1 1113 1341M1358 1028A1e3 1e3 0 0 1 1067 1287M1358 1028A1e3 1e3 0 0 1 1026 1321M1358 1028A1e3 1e3 0 0 1 972 1295M1358 1028A1e3 1e3 0 0 1 880 1311M1358 1028A1e3 1e3 0 0 1 1000 1196M1358 1028A1e3 1e3 0 0 1 922 1215M1358 1028A1e3 1e3 0 0 1 861 1176M1358 1028A1e3 1e3 0 0 1 881 1078M1358 1028A1e3 1e3 0 0 1 912 927M1358 1028A1e3 1e3 0 0 1 788 904M1358 1028A1e3 1e3 0 0 1 691 892M1358 1028A1e3 1e3 0 0 1 723 1081M1358 1028A1e3 1e3 0 0 1 790 1222M1358 1028A1e3 1e3 0 0 1 1743 650M1358 1028A1e3 1e3 0 0 1 1645 476M1358 1028A1e3 1e3 0 0 1 1362 334M1358 1028A1e3 1e3 0 0 1 1267 230M1358 1028A1e3 1e3 0 0 1 1523 266M1358 1028A1e3 1e3 0 0 1 1299 448M1358 1028A1e3 1e3 0 0 1 662 595M1358 1028A1e3 1e3 0 0 1 629 986M1358 1028A1e3 1e3 0 0 1 734 996M1358 1028A1e3 1e3 0 0 1 620 1041"/>
<path class="e1" d="M1191 715A1e3 1e3 0 0 1 1267 230M1191 715A1e3 1e3 0 0 1 1523 266M1191 715A1e3 1e3 0 0 1 1362 334M1191 715A1e3 1e3 0 0 1 1899 825M1191 715A1e3 1e3 0 0 1 1807 1001M1191 715A1e3 1e3 0 0 1 1743 650M1191 715A1e3 1e3 0 0 1 1805 1138M1191 715A1e3 1e3 0 0 1 1627 1244M1191 715A1e3 1e3 0 0 1 1568 1300M1191 715A1e3 1e3 0 0 1 880 1311M1191 715A1e3 1e3 0 0 1 1000 1196M1191 715A1e3 1e3 0 0 1 639 797M1191 715A1e3 1e3 0 0 1 945 270M1191 715A1e3 1e3 0 0 1 1418 207M1191 715A1e3 1e3 0 0 1 1415 114M1191 715A1e3 1e3 0 0 1 1292 70M1191 715A1e3 1e3 0 0 1 1008 16M1191 715A1e3 1e3 0 0 1 1148 30M1191 715A1e3 1e3 0 0 1 914 45M1191 715A1e3 1e3 0 0 1 1655 260M1191 715A1e3 1e3 0 0 1 1632 379M1191 715A1e3 1e3 0 0 1 1744 493M1191 715A1e3 1e3 0 0 1 1797 578M1191 715A1e3 1e3 0 0 1 1929 739M1191 715A1e3 1e3 0 0 1 1916 908M1191 715A1e3 1e3 0 0 1 1713 917M1191 715A1e3 1e3 0 0 1 1928 1029M1191 715A1e3 1e3 0 0 1 1604 1059M1191 715A1e3 1e3 0 0 1 1673 1133M1191 715A1e3 1e3 0 0 1 1797 1217M1191 715A1e3 1e3 0 0 1 1067 1287M1191 715A1e3 1e3 0 0 1 1026 1321M1191 715A1e3 1e3 0 0 1 1063 1376M1191 715A1e3 1e3 0 0 1 963 1389M1191 715A1e3 1e3 0 0 1 791 1305M1191 715A1e3 1e3 0 0 1 1295 1510M1191 715A1e3 1e3 0 0 1 617 1197M1191 715A1e3 1e3 0 0 1 659 1212M1191 715A1e3 1e3 0 0 1 861 1176M1191 715A1e3 1e3 0 0 1 571 1139M1191 715A1e3 1e3 0 0 1 620 1041M1191 715A1e3 1e3 0 0 1 734 996M1191 715A1e3 1e3 0 0 1 629 986M1191 715A1e3 1e3 0 0 1 532 971M1191 715A1e3 1e3 0 0 1 601 940M1191 715A1e3 1e3 0 0 1 638 707M1191 715A1e3 1e3 0 0 1 520 715M1191 715A1e3 1e3 0 0 1 508 579M1191 715A1e3 1e3 0 0 1 821 156M1191 715A1e3 1e3 0 0 1 1790 425
M897 768A1e3 1e3 0 0 1 520 715M897 768A1e3 1e3 0 0 1 638 707M897 768A1e3 1e3 0 0 1 508 579M897 768A1e3 1e3 0 0 1 760 225M897 768A1e3 1e3 0 0 1 953 149M897 768A1e3 1e3 0 0 1 945 270M897 768A1e3 1e3 0 0 1 1267 230M897 768A1e3 1e3 0 0 1 1523 266M897 768A1e3 1e3 0 0 1 1362 334M897 768A1e3 1e3 0 0 1 1045 209M897 768A1e3 1e3 0 0 1 821 156M897 768A1e3 1e3 0 0 1 1008 16M897 768A1e3 1e3 0 0 1 914 45M897 768A1e3 1e3 0 0 1 601 940M897 768A1e3 1e3 0 0 1 532 971M897 768A1e3 1e3 0 0 1 629 986M897 768A1e3 1e3 0 0 1 734 996M897 768A1e3 1e3 0 0 1 620 1041M897 768A1e3 1e3 0 0 1 571 1139M897 768A1e3 1e3 0 0 1 617 1197M897 768A1e3 1e3 0 0 1 659 1212M897 768A1e3 1e3 0 0 1 790 1222M897 768A1e3 1e3 0 0 1 861 1176M897 768A1e3 1e3 0 0 1 922 1215M897 768A1e3 1e3 0 0 1 791 1305M897 768A1e3 1e3 0 0 1 963 1389M897 768A1e3 1e3 0 0 1 1063 1376M897 768A1e3 1e3 0 0 1 1067 1287M897 768A1e3 1e3 0 0 1 1026 1321M897 768A1e3 1e3 0 0 1 1113 1341M897 768A1e3 1e3 0 0 1 1255 1194M897 768A1e3 1e3 0 0 1 1195 1222M897 768A1e3 1e3 0 0 1 1254 1303M897 768A1e3 1e3 0 0 1 1373 1447M897 768A1e3 1e3 0 0 1 1295 1510M897 768A1e3 1e3 0 0 1 1568 1300M897 768A1e3 1e3 0 0 1 1627 1244M897 768A1e3 1e3 0 0 1 1805 1138M897 768A1e3 1e3 0 0 1 1807 1001M897 768A1e3 1e3 0 0 1 1813 751M897 768A1e3 1e3 0 0 1 1899 825M897 768A1e3 1e3 0 0 1 1511 976M897 768A1e3 1e3 0 0 1 1496 1043M897 768A1e3 1e3 0 0 1 1604 1059M897 768A1e3 1e3 0 0 1 1743 650M897 768A1e3 1e3 0 0 1 1874 613M897 768A1e3 1e3 0 0 1 1797 578M897 768A1e3 1e3 0 0 1 1645 476M897 768A1e3 1e3 0 0 1 787 508M897 768A1e3 1e3 0 0 1 921 471M897 768A1e3 1e3 0 0 1 702 461
M1483 792A1e3 1e3 0 0 1 1813 751M1483 792A1e3 1e3 0 0 1 1899 825M1483 792A1e3 1e3 0 0 1 1780 881M1483 792A1e3 1e3 0 0 1 1713 917M1483 792A1e3 1e3 0 0 1 1807 1001M1483 792A1e3 1e3 0 0 1 1916 908M1483 792A1e3 1e3 0 0 1 1928 1029M1483 792A1e3 1e3 0 0 1 1929 739M1483 792A1e3 1e3 0 0 1 1874 613M1483 792A1e3 1e3 0 0 1 1797 578M1483 792A1e3 1e3 0 0 1 1744 493M1483 792A1e3 1e3 0 0 1 1743 650M1483 792A1e3 1e3 0 0 1 1790 425M1483 792A1e3 1e3 0 0 1 1632 379M1483 792A1e3 1e3 0 0 1 1655 260M1483 792A1e3 1e3 0 0 1 1523 266M1483 792A1e3 1e3 0 0 1 1362 334M1483 792A1e3 1e3 0 0 1 1267 230M1483 792A1e3 1e3 0 0 1 1418 207M1483 792A1e3 1e3 0 0 1 1415 114M1483 792A1e3 1e3 0 0 1 1292 70M1483 792A1e3 1e3 0 0 1 1805 1138M1483 792A1e3 1e3 0 0 1 1673 1133M1483 792A1e3 1e3 0 0 1 1797 1217M1483 792A1e3 1e3 0 0 1 1627 1244M1483 792A1e3 1e3 0 0 1 1568 1300M1483 792A1e3 1e3 0 0 1 1413 1348M1483 792A1e3 1e3 0 0 1 1373 1447M1483 792A1e3 1e3 0 0 1 1295 1510M1483 792A1e3 1e3 0 0 1 1254 1303M1483 792A1e3 1e3 0 0 1 1255 1194M1483 792A1e3 1e3 0 0 1 1195 1222M1483 792A1e3 1e3 0 0 1 1604 1059M1483 792A1e3 1e3 0 0 1 1000 1196M1483 792A1e3 1e3 0 0 1 972 1295M1483 792A1e3 1e3 0 0 1 880 1311M1483 792A1e3 1e3 0 0 1 1113 1341M1483 792A1e3 1e3 0 0 1 1067 1287M1483 792A1e3 1e3 0 0 1 1063 1376M1483 792A1e3 1e3 0 0 1 963 1389M1483 792A1e3 1e3 0 0 1 1026 1321M1483 792A1e3 1e3 0 0 1 790 1222M1483 792A1e3 1e3 0 0 1 861 1176M1483 792A1e3 1e3 0 0 1 922 1215M1483 792A1e3 1e3 0 0 1 723 1081M1483 792A1e3 1e3 0 0 1 691 892M1483 792A1e3 1e3 0 0 1 639 797M1483 792A1e3 1e3 0 0 1 725 772M1483 792A1e3 1e3 0 0 1 506 811M1483 792A1e3 1e3 0 0 1 1045 209M1483 792A1e3 1e3 0 0 1 945 270M1483 792A1e3 1e3 0 0 1 953 149M1483 792A1e3 1e3 0 0 1 760 225
M1472 514A1e3 1e3 0 0 1 1655 260M1472 514A1e3 1e3 0 0 1 1632 379M1472 514A1e3 1e3 0 0 1 1790 425M1472 514A1e3 1e3 0 0 1 1744 493M1472 514A1e3 1e3 0 0 1 1797 578M1472 514A1e3 1e3 0 0 1 1874 613M1472 514A1e3 1e3 0 0 1 1743 650M1472 514A1e3 1e3 0 0 1 1813 751M1472 514A1e3 1e3 0 0 1 1929 739M1472 514A1e3 1e3 0 0 1 1899 825M1472 514A1e3 1e3 0 0 1 1780 881M1472 514A1e3 1e3 0 0 1 1916 908M1472 514A1e3 1e3 0 0 1 1713 917M1472 514A1e3 1e3 0 0 1 1614 965M1472 514A1e3 1e3 0 0 1 1807 1001M1472 514A1e3 1e3 0 0 1 1928 1029M1472 514A1e3 1e3 0 0 1 1496 1043M1472 514A1e3 1e3 0 0 1 1604 1059M1472 514A1e3 1e3 0 0 1 1805 1138M1472 514A1e3 1e3 0 0 1 1673 1133M1472 514A1e3 1e3 0 0 1 1797 1217M1472 514A1e3 1e3 0 0 1 1627 1244M1472 514A1e3 1e3 0 0 1 1568 1300M1472 514A1e3 1e3 0 0 1 1413 1348M1472 514A1e3 1e3 0 0 1 1373 1447M1472 514A1e3 1e3 0 0 1 1255 1194M1472 514A1e3 1e3 0 0 1 1195 1222M1472 514A1e3 1e3 0 0 1 1254 1303M1472 514A1e3 1e3 0 0 1 1166 1275M1472 514A1e3 1e3 0 0 1 972 1295M1472 514A1e3 1e3 0 0 1 880 1311M1472 514A1e3 1e3 0 0 1 1000 1196M1472 514A1e3 1e3 0 0 1 1418 207M1472 514A1e3 1e3 0 0 1 1415 114M1472 514A1e3 1e3 0 0 1 1292 70M1472 514A1e3 1e3 0 0 1 1148 30M1472 514A1e3 1e3 0 0 1 1008 16M1472 514A1e3 1e3 0 0 1 914 45M1472 514A1e3 1e3 0 0 1 953 149M1472 514A1e3 1e3 0 0 1 1045 209M1472 514A1e3 1e3 0 0 1 945 270M1472 514A1e3 1e3 0 0 1 1147 246M1472 514A1e3 1e3 0 0 1 760 225M1472 514A1e3 1e3 0 0 1 821 156M1472 514A1e3 1e3 0 0 1 787 508M1472 514A1e3 1e3 0 0 1 921 471
M1070 413A1e3 1e3 0 0 1 821 156M1070 413A1e3 1e3 0 0 1 1008 16M1070 413A1e3 1e3 0 0 1 914 45M1070 413A1e3 1e3 0 0 1 1148 30M1070 413A1e3 1e3 0 0 1 1292 70M1070 413A1e3 1e3 0 0 1 1415 114M1070 413A1e3 1e3 0 0 1 1418 207M1070 413A1e3 1e3 0 0 1 1655 260M1070 413A1e3 1e3 0 0 1 1632 379M1070 413A1e3 1e3 0 0 1 1790 425M1070 413A1e3 1e3 0 0 1 1645 476M1070 413A1e3 1e3 0 0 1 1744 493M1070 413A1e3 1e3 0 0 1 1797 578M1070 413A1e3 1e3 0 0 1 1874 613M1070 413A1e3 1e3 0 0 1 1743 650M1070 413A1e3 1e3 0 0 1 1719 802M1070 413A1e3 1e3 0 0 1 1813 751M1070 413A1e3 1e3 0 0 1 1511 976M1070 413A1e3 1e3 0 0 1 1614 965M1070 413A1e3 1e3 0 0 1 1496 1043M1070 413A1e3 1e3 0 0 1 1166 1275M1070 413A1e3 1e3 0 0 1 972 1295M1070 413A1e3 1e3 0 0 1 880 1311M1070 413A1e3 1e3 0 0 1 1000 1196M1070 413A1e3 1e3 0 0 1 790 1222M1070 413A1e3 1e3 0 0 1 861 1176M1070 413A1e3 1e3 0 0 1 922 1215M1070 413A1e3 1e3 0 0 1 617 1197M1070 413A1e3 1e3 0 0 1 571 1139M1070 413A1e3 1e3 0 0 1 506 811M1070 413A1e3 1e3 0 0 1 520 715M1070 413A1e3 1e3 0 0 1 508 579M1070 413A1e3 1e3 0 0 1 638 707M1070 413A1e3 1e3 0 0 1 639 797M1070 413A1e3 1e3 0 0 1 601 940M1070 413A1e3 1e3 0 0 1 532 971M1070 413A1e3 1e3 0 0 1 629 986M1070 413A1e3 1e3 0 0 1 734 996M1070 413A1e3 1e3 0 0 1 620 1041M1070 413A1e3 1e3 0 0 1 1627 1244M1070 413A1e3 1e3 0 0 1 1568 1300M1070 413A1e3 1e3 0 0 1 1373 1447
M1109 1024A1e3 1e3 0 0 1 1719 802M1109 1024A1e3 1e3 0 0 1 1813 751M1109 1024A1e3 1e3 0 0 1 1899 825M1109 1024A1e3 1e3 0 0 1 1780 881M1109 1024A1e3 1e3 0 0 1 1713 917M1109 1024A1e3 1e3 0 0 1 1807 1001M1109 1024A1e3 1e3 0 0 1 1916 908M1109 1024A1e3 1e3 0 0 1 1928 1029M1109 1024A1e3 1e3 0 0 1 1604 1059M1109 1024A1e3 1e3 0 0 1 1805 1138M1109 1024A1e3 1e3 0 0 1 1673 1133M1109 1024A1e3 1e3 0 0 1 1797 1217M1109 1024A1e3 1e3 0 0 1 1627 1244M1109 1024A1e3 1e3 0 0 1 1568 1300M1109 1024A1e3 1e3 0 0 1 1413 1348M1109 1024A1e3 1e3 0 0 1 1373 1447M1109 1024A1e3 1e3 0 0 1 1295 1510M1109 1024A1e3 1e3 0 0 1 1063 1376M1109 1024A1e3 1e3 0 0 1 963 1389M1109 1024A1e3 1e3 0 0 1 1026 1321M1109 1024A1e3 1e3 0 0 1 791 1305M1109 1024A1e3 1e3 0 0 1 617 1197M1109 1024A1e3 1e3 0 0 1 659 1212M1109 1024A1e3 1e3 0 0 1 571 1139M1109 1024A1e3 1e3 0 0 1 620 1041M1109 1024A1e3 1e3 0 0 1 734 996M1109 1024A1e3 1e3 0 0 1 629 986M1109 1024A1e3 1e3 0 0 1 532 971M1109 1024A1e3 1e3 0 0 1 601 940M1109 1024A1e3 1e3 0 0 1 506 811M1109 1024A1e3 1e3 0 0 1 520 715M1109 1024A1e3 1e3 0 0 1 638 707M1109 1024A1e3 1e3 0 0 1 508 579M1109 1024A1e3 1e3 0 0 1 1743 650M1109 1024A1e3 1e3 0 0 1 1874 613M1109 1024A1e3 1e3 0 0 1 1032 565M1109 1024A1e3 1e3 0 0 1 1299 448M1109 1024A1e3 1e3 0 0 1 1362 334M1109 1024A1e3 1e3 0 0 1 1267 230M1109 1024A1e3 1e3 0 0 1 1523 266M1109 1024A1e3 1e3 0 0 1 760 225M1109 1024A1e3 1e3 0 0 1 945 270M1109 1024A1e3 1e3 0 0 1 1045 209M1109 1024A1e3 1e3 0 0 1 953 149M1109 1024A1e3 1e3 0 0 1 787 508M1109 1024A1e3 1e3 0 0 1 921 471"/>
<path class="e4" d="M1299 448A1e3 1e3 0 0 1 881 1078M1299 448A1e3 1e3 0 0 1 723 1081M1299 448A1e3 1e3 0 0 1 691 892M1299 448A1e3 1e3 0 0 1 912 927M1299 448A1e3 1e3 0 0 1 788 904M1299 448A1e3 1e3 0 0 1 639 797M1299 448A1e3 1e3 0 0 1 662 595M1299 448A1e3 1e3 0 0 1 1000 1196
M1362 334A1e3 1e3 0 0 1 881 1078M1362 334A1e3 1e3 0 0 1 723 1081M1362 334A1e3 1e3 0 0 1 788 904M1362 334A1e3 1e3 0 0 1 912 927M1362 334A1e3 1e3 0 0 1 1359 1199M1362 334A1e3 1e3 0 0 1 1331 1310M1362 334A1e3 1e3 0 0 1 1000 1196M1362 334A1e3 1e3 0 0 1 1503 1174
M1267 230A1e3 1e3 0 0 1 912 927M1267 230A1e3 1e3 0 0 1 788 904M1267 230A1e3 1e3 0 0 1 881 1078M1267 230A1e3 1e3 0 0 1 691 892M1267 230A1e3 1e3 0 0 1 1614 965
M1523 266A1e3 1e3 0 0 1 881 1078M1523 266A1e3 1e3 0 0 1 788 904M1523 266A1e3 1e3 0 0 1 691 892M1523 266A1e3 1e3 0 0 1 1331 1310M1523 266A1e3 1e3 0 0 1 972 1295
M1645 476A1e3 1e3 0 0 1 788 904M1645 476A1e3 1e3 0 0 1 912 927M1645 476A1e3 1e3 0 0 1 881 1078M1645 476A1e3 1e3 0 0 1 691 892M1645 476A1e3 1e3 0 0 1 723 1081M1645 476A1e3 1e3 0 0 1 1000 1196M1645 476A1e3 1e3 0 0 1 1359 1199
M1719 802A1e3 1e3 0 0 1 662 595M1719 802A1e3 1e3 0 0 1 725 772M1719 802A1e3 1e3 0 0 1 912 927M1719 802A1e3 1e3 0 0 1 788 904M1719 802A1e3 1e3 0 0 1 881 1078M1719 802A1e3 1e3 0 0 1 723 1081
M1511 976A1e3 1e3 0 0 1 662 595M1511 976A1e3 1e3 0 0 1 725 772M1511 976A1e3 1e3 0 0 1 639 797M1511 976A1e3 1e3 0 0 1 788 904M1511 976A1e3 1e3 0 0 1 912 927M1511 976A1e3 1e3 0 0 1 691 892
M1614 965A1e3 1e3 0 0 1 725 772M1614 965A1e3 1e3 0 0 1 788 904M1614 965A1e3 1e3 0 0 1 912 927M1614 965A1e3 1e3 0 0 1 881 1078
M1503 1174A1e3 1e3 0 0 1 788 904M1503 1174A1e3 1e3 0 0 1 912 927M1503 1174A1e3 1e3 0 0 1 881 1078M1503 1174A1e3 1e3 0 0 1 691 892M1503 1174A1e3 1e3 0 0 1 725 772M1503 1174A1e3 1e3 0 0 1 723 1081
M1359 1199A1e3 1e3 0 0 1 725 772M1359 1199A1e3 1e3 0 0 1 912 927M1359 1199A1e3 1e3 0 0 1 788 904M1359 1199A1e3 1e3 0 0 1 639 797
M1813 751A1e3 1e3 0 0 1 788 904M1813 751A1e3 1e3 0 0 1 912 927M1813 751A1e3 1e3 0 0 1 725 772M1874 613A1e3 1e3 0 0 1 912 927M1874 613A1e3 1e3 0 0 1 788 904
M1331 1310A1e3 1e3 0 0 1 788 904M1331 1310A1e3 1e3 0 0 1 912 927M1331 1310A1e3 1e3 0 0 1 725 772
M1045 209A1e3 1e3 0 0 1 881 1078M1045 209A1e3 1e3 0 0 1 912 927M1045 209A1e3 1e3 0 0 1 1000 1196M945 270A1e3 1e3 0 0 1 881 1078M945 270A1e3 1e3 0 0 1 788 904M945 270A1e3 1e3 0 0 1 972 1295M760 225A1e3 1e3 0 0 1 912 927M760 225A1e3 1e3 0 0 1 881 1078M953 149A1e3 1e3 0 0 1 912 927M953 149A1e3 1e3 0 0 1 788 904"/>
<path class="e3" d="M1191 715A1e3 1e3 0 0 1 897 768M1191 715A1e3 1e3 0 0 1 1483 792M1191 715A1e3 1e3 0 0 1 1472 514M1191 715A1e3 1e3 0 0 1 1070 413M1191 715A1e3 1e3 0 0 1 1109 1024M1191 715A1e3 1e3 0 0 1 1358 1028M1191 715A1e3 1e3 0 0 1 958 587M1191 715A1e3 1e3 0 0 1 869 582M1191 715A1e3 1e3 0 0 1 662 595M1191 715A1e3 1e3 0 0 1 1299 448M1191 715A1e3 1e3 0 0 1 1645 476M1191 715A1e3 1e3 0 0 1 1719 802M1191 715A1e3 1e3 0 0 1 1614 965M1191 715A1e3 1e3 0 0 1 1511 976M1191 715A1e3 1e3 0 0 1 1503 1174M1191 715A1e3 1e3 0 0 1 1359 1199M1191 715A1e3 1e3 0 0 1 1331 1310M1191 715A1e3 1e3 0 0 1 1166 1275M1191 715A1e3 1e3 0 0 1 972 1295M1191 715A1e3 1e3 0 0 1 881 1078M1191 715A1e3 1e3 0 0 1 723 1081M1191 715A1e3 1e3 0 0 1 691 892M1191 715A1e3 1e3 0 0 1 788 904M1191 715A1e3 1e3 0 0 1 912 927M1191 715A1e3 1e3 0 0 1 725 772M1191 715A1e3 1e3 0 0 1 506 811M1191 715A1e3 1e3 0 0 1 760 225M1191 715A1e3 1e3 0 0 1 953 149M1191 715A1e3 1e3 0 0 1 1045 209M1191 715A1e3 1e3 0 0 1 1496 1043M1191 715A1e3 1e3 0 0 1 921 471M1191 715A1e3 1e3 0 0 1 1032 565M1191 715A1e3 1e3 0 0 1 1255 1194M1191 715A1e3 1e3 0 0 1 1195 1222M1191 715A1e3 1e3 0 0 1 1254 1303M1191 715A1e3 1e3 0 0 1 1113 1341M1191 715A1e3 1e3 0 0 1 1147 246M1191 715A1e3 1e3 0 0 1 1780 881M1191 715A1e3 1e3 0 0 1 1813 751M1191 715A1e3 1e3 0 0 1 1874 613M1191 715A1e3 1e3 0 0 1 1373 1447M1191 715A1e3 1e3 0 0 1 1413 1348M1191 715A1e3 1e3 0 0 1 922 1215M1191 715A1e3 1e3 0 0 1 790 1222
M897 768A1e3 1e3 0 0 1 1483 792M897 768A1e3 1e3 0 0 1 1472 514M897 768A1e3 1e3 0 0 1 1070 413M897 768A1e3 1e3 0 0 1 1109 1024M897 768A1e3 1e3 0 0 1 1358 1028M897 768A1e3 1e3 0 0 1 662 595M897 768A1e3 1e3 0 0 1 725 772M897 768A1e3 1e3 0 0 1 639 797M897 768A1e3 1e3 0 0 1 506 811M897 768A1e3 1e3 0 0 1 691 892M897 768A1e3 1e3 0 0 1 788 904M897 768A1e3 1e3 0 0 1 912 927M897 768A1e3 1e3 0 0 1 881 1078M897 768A1e3 1e3 0 0 1 723 1081M897 768A1e3 1e3 0 0 1 1000 1196M897 768A1e3 1e3 0 0 1 972 1295M897 768A1e3 1e3 0 0 1 880 1311M897 768A1e3 1e3 0 0 1 1166 1275M897 768A1e3 1e3 0 0 1 1331 1310M897 768A1e3 1e3 0 0 1 1359 1199M897 768A1e3 1e3 0 0 1 1503 1174M897 768A1e3 1e3 0 0 1 1614 965M897 768A1e3 1e3 0 0 1 1719 802M897 768A1e3 1e3 0 0 1 1299 448
M1483 792A1e3 1e3 0 0 1 1472 514M1483 792A1e3 1e3 0 0 1 1070 413M1483 792A1e3 1e3 0 0 1 1109 1024M1483 792A1e3 1e3 0 0 1 1358 1028M1483 792A1e3 1e3 0 0 1 1299 448M1483 792A1e3 1e3 0 0 1 1645 476M1483 792A1e3 1e3 0 0 1 1719 802M1483 792A1e3 1e3 0 0 1 1614 965M1483 792A1e3 1e3 0 0 1 1511 976M1483 792A1e3 1e3 0 0 1 1496 1043M1483 792A1e3 1e3 0 0 1 1503 1174M1483 792A1e3 1e3 0 0 1 1359 1199M1483 792A1e3 1e3 0 0 1 1331 1310M1483 792A1e3 1e3 0 0 1 1166 1275M1483 792A1e3 1e3 0 0 1 1032 565M1483 792A1e3 1e3 0 0 1 662 595M1483 792A1e3 1e3 0 0 1 912 927M1483 792A1e3 1e3 0 0 1 881 1078M1483 792A1e3 1e3 0 0 1 788 904
M1472 514A1e3 1e3 0 0 1 1070 413M1472 514A1e3 1e3 0 0 1 1109 1024M1472 514A1e3 1e3 0 0 1 1358 1028M1472 514A1e3 1e3 0 0 1 1299 448M1472 514A1e3 1e3 0 0 1 1645 476M1472 514A1e3 1e3 0 0 1 1719 802M1472 514A1e3 1e3 0 0 1 1511 976M1472 514A1e3 1e3 0 0 1 1362 334M1472 514A1e3 1e3 0 0 1 1267 230M1472 514A1e3 1e3 0 0 1 1523 266M1472 514A1e3 1e3 0 0 1 1032 565M1472 514A1e3 1e3 0 0 1 1503 1174M1472 514A1e3 1e3 0 0 1 1359 1199M1472 514A1e3 1e3 0 0 1 1331 1310M1472 514A1e3 1e3 0 0 1 691 892M1472 514A1e3 1e3 0 0 1 723 1081M1472 514A1e3 1e3 0 0 1 881 1078M1472 514A1e3 1e3 0 0 1 912 927M1472 514A1e3 1e3 0 0 1 788 904M1472 514A1e3 1e3 0 0 1 869 582M1472 514A1e3 1e3 0 0 1 662 595M1472 514A1e3 1e3 0 0 1 725 772
M1070 413A1e3 1e3 0 0 1 1109 1024M1070 413A1e3 1e3 0 0 1 1358 1028M1070 413A1e3 1e3 0 0 1 662 595M1070 413A1e3 1e3 0 0 1 1299 448M1070 413A1e3 1e3 0 0 1 1362 334M1070 413A1e3 1e3 0 0 1 1267 230M1070 413A1e3 1e3 0 0 1 1523 266M1070 413A1e3 1e3 0 0 1 1147 246M1070 413A1e3 1e3 0 0 1 1045 209M1070 413A1e3 1e3 0 0 1 945 270M1070 413A1e3 1e3 0 0 1 953 149M1070 413A1e3 1e3 0 0 1 760 225M1070 413A1e3 1e3 0 0 1 921 471M1070 413A1e3 1e3 0 0 1 787 508M1070 413A1e3 1e3 0 0 1 702 461M1070 413A1e3 1e3 0 0 1 784 615M1070 413A1e3 1e3 0 0 1 725 772M1070 413A1e3 1e3 0 0 1 881 1078M1070 413A1e3 1e3 0 0 1 723 1081M1070 413A1e3 1e3 0 0 1 691 892M1070 413A1e3 1e3 0 0 1 788 904M1070 413A1e3 1e3 0 0 1 912 927M1070 413A1e3 1e3 0 0 1 1503 1174M1070 413A1e3 1e3 0 0 1 1331 1310M1070 413A1e3 1e3 0 0 1 1359 1199
M1109 1024A1e3 1e3 0 0 1 1358 1028M1109 1024A1e3 1e3 0 0 1 1614 965M1109 1024A1e3 1e3 0 0 1 1511 976M1109 1024A1e3 1e3 0 0 1 1496 1043M1109 1024A1e3 1e3 0 0 1 1503 1174M1109 1024A1e3 1e3 0 0 1 1359 1199M1109 1024A1e3 1e3 0 0 1 1331 1310M1109 1024A1e3 1e3 0 0 1 1166 1275M1109 1024A1e3 1e3 0 0 1 1067 1287M1109 1024A1e3 1e3 0 0 1 1113 1341M1109 1024A1e3 1e3 0 0 1 972 1295M1109 1024A1e3 1e3 0 0 1 880 1311M1109 1024A1e3 1e3 0 0 1 881 1078M1109 1024A1e3 1e3 0 0 1 723 1081M1109 1024A1e3 1e3 0 0 1 691 892M1109 1024A1e3 1e3 0 0 1 788 904M1109 1024A1e3 1e3 0 0 1 912 927M1109 1024A1e3 1e3 0 0 1 1000 1196M1109 1024A1e3 1e3 0 0 1 922 1215M1109 1024A1e3 1e3 0 0 1 861 1176M1109 1024A1e3 1e3 0 0 1 790 1222M1109 1024A1e3 1e3 0 0 1 725 772M1109 1024A1e3 1e3 0 0 1 639 797M1109 1024A1e3 1e3 0 0 1 662 595M1109 1024A1e3 1e3 0 0 1 1255 1194M1109 1024A1e3 1e3 0 0 1 1195 1222M1109 1024A1e3 1e3 0 0 1 1254 1303"/>
<path class="e5" d="M850 371A1e3 1e3 0 0 1 726 366M850 371A1e3 1e3 0 0 1 603 460M850 371A1e3 1e3 0 0 1 702 461M850 371A1e3 1e3 0 0 1 1135 138M850 371A1e3 1e3 0 0 1 958 587M850 371A1e3 1e3 0 0 1 869 582M850 371A1e3 1e3 0 0 1 662 595M850 371A1e3 1e3 0 0 1 787 508M850 371A1e3 1e3 0 0 1 921 471M850 371A1e3 1e3 0 0 1 508 579M850 371A1e3 1e3 0 0 1 760 225
M726 366A1e3 1e3 0 0 1 603 460M726 366A1e3 1e3 0 0 1 702 461M726 366A1e3 1e3 0 0 1 869 582M726 366A1e3 1e3 0 0 1 958 587M726 366A1e3 1e3 0 0 1 662 595M726 366A1e3 1e3 0 0 1 787 508M726 366A1e3 1e3 0 0 1 508 579M726 366A1e3 1e3 0 0 1 506 811
M603 460A1e3 1e3 0 0 1 702 461M603 460A1e3 1e3 0 0 1 869 582M603 460A1e3 1e3 0 0 1 508 579M603 460A1e3 1e3 0 0 1 520 715M603 460A1e3 1e3 0 0 1 506 811M603 460A1e3 1e3 0 0 1 662 595M603 460A1e3 1e3 0 0 1 787 508
M1135 138A1e3 1e3 0 0 1 869 582M1135 138A1e3 1e3 0 0 1 958 587M1135 138A1e3 1e3 0 0 1 1490 174M1135 138A1e3 1e3 0 0 1 1267 230
M1490 174A1e3 1e3 0 0 1 1650 627M1490 174A1e3 1e3 0 0 1 1523 266M1490 174A1e3 1e3 0 0 1 1362 334M1490 174A1e3 1e3 0 0 1 1655 260
M1650 627A700 700 0 0 1 958 587M1650 627A1e3 1e3 0 0 1 1645 476M1650 627A1e3 1e3 0 0 1 1744 493M1650 627A1e3 1e3 0 0 1 1632 379
M958 587A1e3 1e3 0 0 1 869 582M958 587A1e3 1e3 0 0 1 921 471"/>
</g>
<g id="nodes">
<g id="n-u1"><circle cx="1490" cy="174" r="10" fill="#5f52ac"/><circle cx="1490" cy="174" r="10" class="s"/></g>
<g id="n-u2"><circle cx="869" cy="582" r="14" fill="#5f52ac"/><circle cx="869" cy="582" r="14" class="s"/></g>
<g id="n-u3"><circle cx="508" cy="579" r="10" fill="#66c85a"/><circle cx="508" cy="579" r="10" class="s"/></g>
<g id="n-u4"><circle cx="784" cy="615" r="10" fill="#a6d02a"/><circle cx="784" cy="615" r="10" class="s"/></g>
<g id="n-u5"><circle cx="914" cy="45" r="10" fill="#5cc862"/><circle cx="914" cy="45" r="10" class="s"/></g>
<g id="n-u6"><circle cx="1147" cy="246" r="9" fill="#5ec464"/><circle cx="1147" cy="246" r="9" class="s"/></g>
<g id="n-u7"><circle cx="1655" cy="260" r="10" fill="#6cd050"/><circle cx="1655" cy="260" r="10" class="s"/></g>
<g id="n-u8"><circle cx="1299" cy="448" r="16" fill="#c4dc1c"/><circle cx="1299" cy="448" r="16" class="s"/></g>
<g id="n-u9"><circle cx="1645" cy="476" r="15" fill="#9ccc1c"/><circle cx="1645" cy="476" r="15" class="s"/></g>
<g id="n-u10"><circle cx="1743" cy="650" r="14" fill="#d8dc10"/><circle cx="1743" cy="650" r="14" class="s"/></g>
<g id="n-u11"><circle cx="1929" cy="739" r="10" fill="#78cc50"/><circle cx="1929" cy="739" r="10" class="s"/></g>
<g id="n-u12"><circle cx="1916" cy="908" r="9" fill="#d4dc1c"/><circle cx="1916" cy="908" r="9" class="s"/></g>
<g id="n-u13"><circle cx="1614" cy="965" r="13" fill="#c0d41c"/><circle cx="1614" cy="965" r="13" class="s"/></g>
<g id="n-u14"><circle cx="1928" cy="1029" r="10" fill="#d0dc20"/><circle cx="1928" cy="1029" r="10" class="s"/></g>
<g id="n-u15"><circle cx="1496" cy="1043" r="8" fill="#70c858"/><circle cx="1496" cy="1043" r="8" class="s"/></g>
<g id="n-u16"><circle cx="1673" cy="1133" r="11" fill="#d8dc10"/><circle cx="1673" cy="1133" r="11" class="s"/></g>
<g id="n-u17"><circle cx="1195" cy="1222" r="10" fill="#d8dc1c"/><circle cx="1195" cy="1222" r="10" class="s"/></g>
<g id="n-u18"><circle cx="1067" cy="1287" r="9" fill="#7ccc50"/><circle cx="1067" cy="1287" r="9" class="s"/></g>
<g id="n-u19"><circle cx="1026" cy="1321" r="9" fill="#c4d01c"/><circle cx="1026" cy="1321" r="9" class="s"/></g>
<g id="n-u20"><circle cx="791" cy="1305" r="11" fill="#4cbc64"/><circle cx="791" cy="1305" r="11" class="s"/></g>
<g id="n-u21"><circle cx="1254" cy="1303" r="11" fill="#b4cc24"/><circle cx="1254" cy="1303" r="11" class="s"/></g>
<g id="n-u22"><circle cx="659" cy="1212" r="11" fill="#c0d428"/><circle cx="659" cy="1212" r="11" class="s"/></g>
<g id="n-u23"><circle cx="922" cy="1215" r="11" fill="#90c034"/><circle cx="922" cy="1215" r="11" class="s"/></g>
<g id="n-u24"><circle cx="620" cy="1041" r="8" fill="#c0d830"/><circle cx="620" cy="1041" r="8" class="s"/></g>
<g id="n-u25"><circle cx="629" cy="986" r="10" fill="#e0e010"/><circle cx="629" cy="986" r="10" class="s"/></g>
<g id="n-u26"><circle cx="788" cy="904" r="12" fill="#88d048"/><circle cx="788" cy="904" r="12" class="s"/></g>
<g id="n-u27"><circle cx="725" cy="772" r="11" fill="#a8c830"/><circle cx="725" cy="772" r="11" class="s"/></g>
<g id="n-u28"><circle cx="520" cy="715" r="10" fill="#70cc60"/><circle cx="520" cy="715" r="10" class="s"/></g>
<g id="n-u29"><circle cx="1032" cy="565" r="8" fill="#d8e020"/><circle cx="1032" cy="565" r="8" class="s"/></g>
<g id="n-kenya"><circle cx="702" cy="461" r="8" fill="#6ccf5a"/><circle cx="702" cy="461" r="8" class="s"/><text x="702" y="468" font-size="22">kenya</text></g>
<g id="n-africa"><circle cx="603" cy="460" r="11" fill="#6256b0"/><circle cx="603" cy="460" r="11" class="s"/><text x="603" y="466" font-size="23">africa</text></g>
<g id="n-participation"><circle cx="726" cy="366" r="13" fill="#6256b0"/><circle cx="726" cy="366" r="13" class="s"/><text x="728" y="373" font-size="23">participation</text></g>
<g id="n-wildlife"><circle cx="850" cy="371" r="18" fill="#5a4ea8"/><circle cx="850" cy="371" r="18" class="s"/><text x="848" y="379" font-size="27">wildlife</text></g>
<g id="n-livelihoods"><circle cx="787" cy="508" r="8" fill="#9ccc34"/><circle cx="787" cy="508" r="8" class="s"/><text x="794" y="512" font-size="23">livelihoods</text></g>
<g id="n-national-parks"><circle cx="921" cy="471" r="6" fill="#8ccc40"/><circle cx="921" cy="471" r="6" class="s"/><text x="921" y="478" font-size="22">national-parks</text></g>
<g id="n-human-wildlife-conflict"><circle cx="945" cy="270" r="8" fill="#c6d41c"/><circle cx="945" cy="270" r="8" class="s"/><text x="945" y="274" font-size="23">human-wildlife conflict</text></g>
<g id="n-reserve"><circle cx="1045" cy="209" r="9" fill="#90cc3c"/><circle cx="1045" cy="209" r="9" class="s"/><text x="1045" y="213" font-size="23">reserve</text></g>
<g id="n-nepal"><circle cx="953" cy="149" r="8" fill="#5ec864"/><circle cx="953" cy="149" r="8" class="s"/><text x="953" y="150" font-size="23">nepal</text></g>
<g id="n-india"><circle cx="821" cy="156" r="7" fill="#a6d034"/><circle cx="821" cy="156" r="7" class="s"/><text x="821" y="160" font-size="22">india</text></g>
<g id="n-people"><circle cx="760" cy="225" r="10" fill="#80c844"/><circle cx="760" cy="225" r="10" class="s"/><text x="760" y="232" font-size="24">people</text></g>
<g id="n-local-people"><circle cx="1008" cy="16" r="8" fill="#a6d434"/><circle cx="1008" cy="16" r="8" class="s"/><text x="1004" y="20" font-size="22">local people</text></g>
<g id="n-conflict"><circle cx="1148" cy="30" r="6" fill="#88d04a"/><circle cx="1148" cy="30" r="6" class="s"/><text x="1149" y="31" font-size="22">conflict</text></g>
<g id="n-residents"><circle cx="1292" cy="70" r="7" fill="#a6d434"/><circle cx="1292" cy="70" r="7" class="s"/><text x="1290" y="76" font-size="22">residents</text></g>
<g id="n-issues"><circle cx="1415" cy="114" r="7" fill="#80cc4c"/><circle cx="1415" cy="114" r="7" class="s"/><text x="1414" y="121" font-size="22">issues</text></g>
<g id="n-policy"><circle cx="1418" cy="207" r="9" fill="#70c84c"/><circle cx="1418" cy="207" r="9" class="s"/><text x="1419" y="209" font-size="23">policy</text></g>
<g id="n-impact"><circle cx="1135" cy="138" r="16" fill="#5f52ac"/><circle cx="1135" cy="138" r="16" class="s"/><text x="1136" y="145" font-size="23">impact</text></g>
<g id="n-attitudes"><circle cx="1267" cy="230" r="16" fill="#8cc42c"/><circle cx="1267" cy="230" r="16" class="s"/><text x="1266" y="236" font-size="28">attitudes</text></g>
<g id="n-perceptions"><circle cx="1523" cy="266" r="16" fill="#a8cc1c"/><circle cx="1523" cy="266" r="16" class="s"/><text x="1523" y="275" font-size="26">perceptions</text></g>
<g id="n-benefits"><circle cx="1362" cy="334" r="12" fill="#98c820"/><circle cx="1362" cy="334" r="12" class="s"/><text x="1363" y="341" font-size="25">benefits</text></g>
<g id="n-framework"><circle cx="1632" cy="379" r="6" fill="#a0d030"/><circle cx="1632" cy="379" r="6" class="s"/><text x="1631" y="385" font-size="21">framework</text></g>
<g id="n-visitors"><circle cx="1790" cy="425" r="8" fill="#c4dc24"/><circle cx="1790" cy="425" r="8" class="s"/><text x="1789" y="431" font-size="21">visitors</text></g>
<g id="n-swot"><circle cx="1744" cy="493" r="8" fill="#d4dc1c"/><circle cx="1744" cy="493" r="8" class="s"/><text x="1744" y="496" font-size="22">swot</text></g>
<g id="n-landscape"><circle cx="1797" cy="578" r="7" fill="#98d040"/><circle cx="1797" cy="578" r="7" class="s"/><text x="1795" y="579" font-size="22">landscape</text></g>
<g id="n-values"><circle cx="1874" cy="613" r="9" fill="#84cc44"/><circle cx="1874" cy="613" r="9" class="s"/><text x="1874" y="619" font-size="23">values</text></g>
<g id="n-sustainability"><circle cx="1650" cy="627" r="14" fill="#6354b0"/><circle cx="1650" cy="627" r="14" class="s"/><text x="1649" y="632" font-size="24">sustainability</text></g>
<g id="n-contingent-valuation"><circle cx="1813" cy="751" r="10" fill="#98cc2c"/><circle cx="1813" cy="751" r="10" class="s"/><text x="1813" y="752" font-size="25">contingent valuation</text></g>
<g id="n-satisfaction"><circle cx="1719" cy="802" r="9" fill="#c4d820"/><circle cx="1719" cy="802" r="9" class="s"/><text x="1719" y="801" font-size="23">satisfaction</text></g>
<g id="n-willingness-to-pay"><circle cx="1899" cy="825" r="8" fill="#a8d030"/><circle cx="1899" cy="825" r="8" class="s"/><text x="1901" y="828" font-size="23">willingness to pay</text></g>
<g id="n-economic-value"><circle cx="1780" cy="881" r="5" fill="#a8d030"/><circle cx="1780" cy="881" r="5" class="s"/><text x="1779" y="883" font-size="21">economic value</text></g>
<g id="n-indicators"><circle cx="1713" cy="917" r="5" fill="#c0d830"/><circle cx="1713" cy="917" r="5" class="s"/><text x="1713" y="923" font-size="21">indicators</text></g>
<g id="n-park"><circle cx="1511" cy="976" r="8" fill="#88c438"/><circle cx="1511" cy="976" r="8" class="s"/><text x="1511" y="981" font-size="23">park</text></g>
<g id="n-willingness-to-pay-2"><circle cx="1807" cy="1001" r="10" fill="#b0d428"/><circle cx="1807" cy="1001" r="10" class="s"/><text x="1806" y="1003" font-size="23">willingness-to-pay</text></g>
<g id="n-resources"><circle cx="1604" cy="1059" r="6" fill="#d0d420"/><circle cx="1604" cy="1059" r="6" class="s"/><text x="1604" y="1063" font-size="21">resources</text></g>
<g id="n-valuation"><circle cx="1805" cy="1138" r="10" fill="#84c440"/><circle cx="1805" cy="1138" r="10" class="s"/><text x="1803" y="1138" font-size="23">valuation</text></g>
<g id="n-recreation"><circle cx="1503" cy="1174" r="15" fill="#74bc44"/><circle cx="1503" cy="1174" r="15" class="s"/><text x="1504" y="1178" font-size="25">recreation</text></g>
<g id="n-behavior"><circle cx="1359" cy="1199" r="13" fill="#b4c81c"/><circle cx="1359" cy="1199" r="13" class="s"/><text x="1358" y="1203" font-size="24">behavior</text></g>
<g id="n-area"><circle cx="1255" cy="1194" r="6" fill="#c8d430"/><circle cx="1255" cy="1194" r="6" class="s"/><text x="1258" y="1201" font-size="21">area</text></g>
<g id="n-choice-experiments"><circle cx="1797" cy="1217" r="8" fill="#98d040"/><circle cx="1797" cy="1217" r="8" class="s"/><text x="1797" y="1220" font-size="21">choice experiments</text></g>
<g id="n-demand"><circle cx="1627" cy="1244" r="10" fill="#b8d428"/><circle cx="1627" cy="1244" r="10" class="s"/><text x="1631" y="1248" font-size="23">demand</text></g>
<g id="n-nature-based-tourism"><circle cx="1568" cy="1300" r="11" fill="#a4c830"/><circle cx="1568" cy="1300" r="11" class="s"/><text x="1568" y="1302" font-size="23">nature-based tourism</text></g>
<g id="n-parks"><circle cx="1331" cy="1310" r="10" fill="#64bc50"/><circle cx="1331" cy="1310" r="10" class="s"/><text x="1331" y="1313" font-size="23">parks</text></g>
<g id="n-rain-forest"><circle cx="1413" cy="1348" r="8" fill="#4cc884"/><circle cx="1413" cy="1348" r="8" class="s"/><text x="1413" y="1350" font-size="22">rain-forest</text></g>
<g id="n-costa-rica"><circle cx="1166" cy="1275" r="8" fill="#38bc94"/><circle cx="1166" cy="1275" r="8" class="s"/><text x="1167" y="1281" font-size="21">costa rica</text></g>
<g id="n-disturbance"><circle cx="1113" cy="1341" r="9" fill="#5cbc60"/><circle cx="1113" cy="1341" r="9" class="s"/><text x="1170" y="1360" font-size="22">disturbance</text></g>
<g id="n-land"><circle cx="1063" cy="1376" r="6" fill="#b0d840"/><circle cx="1063" cy="1376" r="6" class="s"/><text x="1064" y="1373" font-size="21">land</text></g>
<g id="n-diversity"><circle cx="963" cy="1389" r="6" fill="#c0d830"/><circle cx="963" cy="1389" r="6" class="s"/><text x="961" y="1391" font-size="21">diversity</text></g>
<g id="n-forest"><circle cx="972" cy="1295" r="12" fill="#6cb444"/><circle cx="972" cy="1295" r="12" class="s"/><text x="971" y="1294" font-size="23">forest</text></g>
<g id="n-ecology"><circle cx="880" cy="1311" r="10" fill="#a0c428"/><circle cx="880" cy="1311" r="10" class="s"/><text x="879" y="1312" font-size="24">ecology</text></g>
<g id="n-areas"><circle cx="1373" cy="1447" r="10" fill="#a0c428"/><circle cx="1373" cy="1447" r="10" class="s"/><text x="1374" y="1453" font-size="23">areas</text></g>
<g id="n-protected"><circle cx="1295" cy="1510" r="7" fill="#c0d830"/><circle cx="1295" cy="1510" r="7" class="s"/><text x="1295" y="1510" font-size="21">protected</text></g>
<g id="n-population"><circle cx="790" cy="1222" r="8" fill="#6cc060"/><circle cx="790" cy="1222" r="8" class="s"/><text x="791" y="1224" font-size="24">population</text></g>
<g id="n-mountain-gorillas"><circle cx="617" cy="1197" r="7" fill="#6cc860"/><circle cx="617" cy="1197" r="7" class="s"/><text x="616" y="1198" font-size="22">mountain gorillas</text></g>
<g id="n-sustainable"><circle cx="861" cy="1176" r="6" fill="#a8d040"/><circle cx="861" cy="1176" r="6" class="s"/><text x="860" y="1182" font-size="21">sustainable</text></g>
<g id="n-china"><circle cx="1000" cy="1196" r="10" fill="#a0bc1c"/><circle cx="1000" cy="1196" r="10" class="s"/><text x="1000" y="1198" font-size="23">china</text></g>
<g id="n-habituation"><circle cx="571" cy="1139" r="7" fill="#b8d840"/><circle cx="571" cy="1139" r="7" class="s"/><text x="571" y="1142" font-size="21">habituation</text></g>
<g id="n-community"><circle cx="723" cy="1081" r="10" fill="#80c040"/><circle cx="723" cy="1081" r="10" class="s"/><text x="725" y="1080" font-size="23">community</text></g>
<g id="n-impacts"><circle cx="881" cy="1078" r="13" fill="#98c028"/><circle cx="881" cy="1078" r="13" class="s"/><text x="881" y="1076" font-size="25">impacts</text></g>
<g id="n-state"><circle cx="734" cy="996" r="6" fill="#b0d040"/><circle cx="734" cy="996" r="6" class="s"/><text x="734" y="1002" font-size="22">state</text></g>
<g id="n-revenue"><circle cx="532" cy="971" r="6" fill="#b0d840"/><circle cx="532" cy="971" r="6" class="s"/><text x="532" y="974" font-size="21">revenue</text></g>
<g id="n-politics"><circle cx="601" cy="940" r="8" fill="#a0cc40"/><circle cx="601" cy="940" r="8" class="s"/><text x="600" y="937" font-size="22">politics</text></g>
<g id="n-national-parks-2"><circle cx="691" cy="892" r="10" fill="#90c438"/><circle cx="691" cy="892" r="10" class="s"/><text x="691" y="895" font-size="25">national parks</text></g>
<g id="n-knowledge"><circle cx="912" cy="927" r="6" fill="#a0c840"/><circle cx="912" cy="927" r="6" class="s"/><text x="913" y="933" font-size="22">knowledge</text></g>
<g id="n-poverty"><circle cx="639" cy="797" r="8" fill="#b0c828"/><circle cx="639" cy="797" r="8" class="s"/><text x="641" y="799" font-size="23">poverty</text></g>
<g id="n-uganda"><circle cx="506" cy="811" r="10" fill="#70c850"/><circle cx="506" cy="811" r="10" class="s"/><text x="506" y="815" font-size="23">uganda</text></g>
<g id="n-wildlife-tourism"><circle cx="638" cy="707" r="6" fill="#c8d830"/><circle cx="638" cy="707" r="6" class="s"/><text x="635" y="709" font-size="21">wildlife tourism</text></g>
<g id="n-biodiversity-conservation"><circle cx="662" cy="595" r="16" fill="#88c42c"/><circle cx="662" cy="595" r="16" class="s"/><text x="657" y="601" font-size="27">biodiversity conservation</text></g>
<g id="n-tourism-development"><circle cx="958" cy="587" r="13" fill="#5f52ac"/><circle cx="958" cy="587" r="13" class="s"/><text x="959" y="594" font-size="24">tourism development</text></g>
<g id="n-biodiversity"><circle cx="1358" cy="1028" r="22" fill="#92c41c"/><circle cx="1358" cy="1028" r="22" class="s"/><text x="1358" y="1033" font-size="29">biodiversity</text></g>
<g id="n-protected-areas"><circle cx="1070" cy="413" r="26" fill="#2aa8a4"/><circle cx="1070" cy="413" r="26" class="s"/><text x="1067" y="422" font-size="31">protected areas</text></g>
<g id="n-management"><circle cx="1472" cy="514" r="29" fill="#1f9a99"/><circle cx="1472" cy="514" r="29" class="s"/><text x="1472" y="523" font-size="31">management</text></g>
<g id="n-tourism"><circle cx="897" cy="768" r="29" fill="#20969c"/><circle cx="897" cy="768" r="29" class="s"/><text x="897" y="777" font-size="31">tourism</text></g>
<g id="n-national-park"><circle cx="1483" cy="792" r="32" fill="#1fa091"/><circle cx="1483" cy="792" r="32" class="s"/><text x="1486" y="802" font-size="33">national-park</text></g>
<g id="n-conservation"><circle cx="1109" cy="1024" r="32" fill="#22a38c"/><circle cx="1109" cy="1024" r="32" class="s"/><text x="1109" y="1034" font-size="33">conservation</text></g>
<g id="n-ecotourism"><circle cx="1191" cy="715" r="43" fill="#23939f"/><circle cx="1191" cy="715" r="43" class="s"/><text x="1191" y="723" font-size="37">ecotourism</text></g>
</g>
<g id="legend">
<rect x="1485" y="1487" width="555" height="36" fill="url(#vir)" stroke="#808080" stroke-width="3"/>
<path d="M1513 1509V1523M1638 1509V1523M1762 1509V1523M1886 1509V1523M2010 1509V1523" stroke="#808080" stroke-width="3"/>
<text class="yr" transform="translate(1515 1554) scale(1 1.26)">1980</text>
<text class="yr" transform="translate(1638 1554) scale(1 1.26)">1990</text>
<text class="yr" transform="translate(1763 1554) scale(1 1.26)">2000</text>
<text class="yr" transform="translate(1886 1554) scale(1 1.26)">2010</text>
<text class="yr" transform="translate(2008 1554) scale(1 1.26)">2020</text>
</g>
</svg>
